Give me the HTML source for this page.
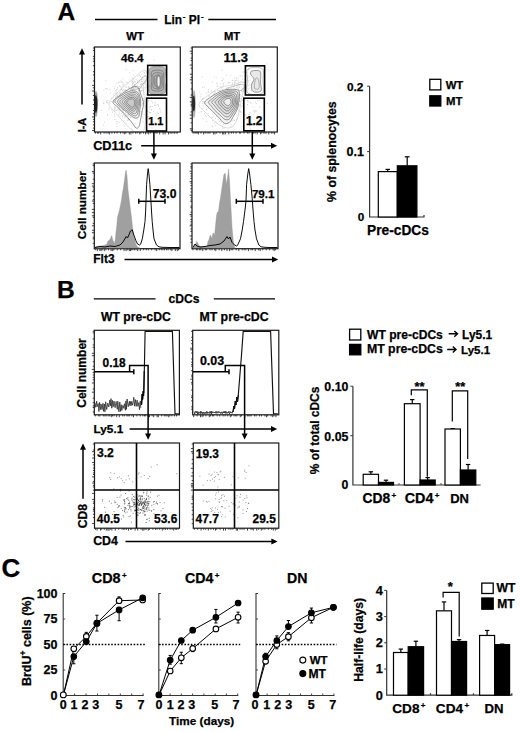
<!DOCTYPE html>
<html><head><meta charset="utf-8"><style>
html,body{margin:0;padding:0;background:#fff;width:520px;height:732px;overflow:hidden}
svg{display:block}
text{font-family:"Liberation Sans", sans-serif;font-weight:bold;fill:#000;stroke:#000;stroke-width:0.25px}
</style></head><body>
<svg width="520" height="732" viewBox="0 0 520 732">
<rect width="520" height="732" fill="#fff"/>
<text x="57.5" y="20.0" font-size="24.533" text-anchor="start">A</text>
<line x1="95" y1="19.5" x2="157.5" y2="19.5" stroke="#000" stroke-width="1.3"/>
<line x1="208.3" y1="19.5" x2="276" y2="19.5" stroke="#000" stroke-width="1.3"/>
<text x="164.16" y="24.03" font-size="11.952" text-anchor="start">Lin<tspan dx="0.8" dy="-5" font-size="8">-</tspan><tspan dy="5"> PI</tspan><tspan dx="0.8" dy="-5" font-size="8">-</tspan></text>
<text x="135.07" y="39.58" font-size="11.421" text-anchor="middle">WT</text>
<text x="232.07" y="39.58" font-size="11.226" text-anchor="middle">MT</text>
<path d="M142.5,117.9h0.8 M127.8,93.6h0.8 M113.9,102.3h0.8 M114.7,86.2h0.8 M129.4,103.5h0.8 M133.6,91.9h0.8 M127.1,101.3h0.8 M108.9,107.9h0.8 M130.8,128.3h0.8 M129.4,100.4h0.8 M141.8,104.2h0.8 M137.9,98.0h0.8 M129.6,113.3h0.8 M135.4,103.4h0.8 M114.0,106.9h0.8 M127.9,109.9h0.8 M129.6,114.0h0.8 M126.4,104.2h0.8 M135.0,90.0h0.8 M122.2,96.5h0.8 M150.8,101.0h0.8 M134.8,108.8h0.8 M123.6,84.9h0.8 M138.6,97.5h0.8 M135.6,87.6h0.8 M121.7,115.8h0.8 M144.2,87.7h0.8 M111.0,101.5h0.8 M135.7,103.8h0.8 M130.6,91.1h0.8 M134.0,114.3h0.8 M121.8,86.2h0.8 M117.9,110.4h0.8 M106.2,101.0h0.8 M115.1,100.6h0.8 M124.1,102.2h0.8 M145.0,106.6h0.8 M143.0,100.4h0.8 M121.2,106.2h0.8 M128.9,88.4h0.8 M132.6,95.8h0.8 M97.5,99.7h0.8 M115.3,96.3h0.8 M125.2,115.8h0.8 M128.2,101.7h0.8 M131.7,82.1h0.8 M141.9,90.2h0.8 M132.3,89.6h0.8 M115.3,97.6h0.8 M149.7,109.7h0.8 M119.7,98.9h0.8 M113.2,101.6h0.8 M120.1,109.9h0.8 M110.7,98.3h0.8 M116.9,94.1h0.8 M135.5,103.4h0.8 M134.0,115.1h0.8 M140.8,86.9h0.8 M133.4,82.6h0.8 M126.2,123.1h0.8 M124.7,97.9h0.8 M129.0,102.2h0.8 M127.3,93.7h0.8 M140.0,111.8h0.8 M124.5,105.5h0.8 M134.9,113.4h0.8 M131.7,109.6h0.8 M123.8,90.2h0.8 M121.1,113.2h0.8 M138.7,103.6h0.8 M120.2,105.4h0.8 M147.0,116.9h0.8 M118.8,101.5h0.8 M109.6,89.5h0.8 M129.3,102.3h0.8 M138.6,115.9h0.8 M137.0,116.5h0.8 M120.4,89.6h0.8 M133.0,131.5h0.8 M131.3,89.3h0.8 M129.9,117.7h0.8 M114.6,110.8h0.8 M119.7,116.0h0.8 M136.4,105.3h0.8 M151.0,97.5h0.8 M118.8,122.4h0.8 M116.5,126.2h0.8 M126.5,90.6h0.8 M127.0,103.4h0.8 M129.4,99.9h0.8 M140.0,76.5h0.8 M120.3,99.1h0.8 M148.8,80.1h0.8 M122.9,89.4h0.8 M119.0,109.0h0.8 M131.9,117.8h0.8 M119.8,105.0h0.8 M141.1,111.9h0.8 M123.0,114.4h0.8 M115.9,121.8h0.8 M128.9,100.8h0.8 M130.3,111.3h0.8 M147.9,100.4h0.8 M122.6,108.5h0.8 M116.5,83.3h0.8 M137.0,97.8h0.8 M140.5,90.7h0.8 M128.9,119.6h0.8 M133.3,105.4h0.8 M134.0,98.0h0.8 M127.9,87.1h0.8 M133.2,93.1h0.8 M121.7,109.7h0.8 M138.0,90.9h0.8 M151.0,95.5h0.8 M137.0,112.5h0.8 M129.7,103.9h0.8 M148.6,111.8h0.8 M132.3,81.9h0.8 M118.0,114.8h0.8 M129.3,91.5h0.8 M119.3,98.6h0.8 M135.2,106.3h0.8 M139.0,93.0h0.8 M138.8,96.5h0.8 M123.4,121.1h0.8 M127.9,100.5h0.8 M124.5,97.8h0.8 M145.7,117.1h0.8 M135.6,104.0h0.8 M139.5,101.1h0.8 M132.4,106.4h0.8 M128.1,120.1h0.8 M148.1,116.6h0.8 M104.0,122.2h0.8 M135.4,97.0h0.8 M126.7,114.5h0.8 M141.1,111.4h0.8 M128.7,102.4h0.8 M137.0,101.0h0.8 M116.2,95.1h0.8 M125.3,105.7h0.8 M154.2,86.9h0.8 M132.7,101.0h0.8 M130.6,116.9h0.8 M141.9,100.3h0.8 M120.3,87.0h0.8 M126.1,115.7h0.8 M123.8,109.7h0.8 M135.5,106.4h0.8 M140.0,100.7h0.8 M117.0,89.1h0.8 M138.1,98.0h0.8 M123.3,111.2h0.8 M117.5,121.5h0.8 M135.0,96.2h0.8 M119.4,113.9h0.8 M112.8,94.9h0.8 M127.1,104.2h0.8 M127.2,106.3h0.8 M122.6,100.7h0.8 M142.2,109.1h0.8 M121.6,120.9h0.8 M103.1,102.9h0.8 M135.0,112.7h0.8 M128.3,97.8h0.8 M134.0,99.9h0.8 M132.7,70.6h0.8 M131.6,93.3h0.8 M138.3,110.2h0.8 M135.7,97.6h0.8 M132.2,98.2h0.8 M129.6,100.5h0.8 M116.5,123.7h0.8 M135.7,79.4h0.8 M137.7,86.7h0.8 M124.2,95.6h0.8 M120.6,104.6h0.8 M123.1,86.1h0.8 M126.9,106.0h0.8 M148.2,97.4h0.8 M112.7,97.8h0.8 M134.8,92.3h0.8 M118.3,108.1h0.8 M126.9,104.4h0.8 M119.5,92.9h0.8 M123.1,100.3h0.8 M123.0,106.7h0.8 M133.6,108.0h0.8 M132.8,92.3h0.8 M113.6,110.8h0.8 M127.2,103.3h0.8 M113.1,99.7h0.8 M119.3,92.5h0.8 M119.4,85.6h0.8 M128.0,114.8h0.8 M118.5,103.0h0.8 M113.9,109.4h0.8 M149.4,88.4h0.8 M124.3,117.7h0.8 M131.4,103.3h0.8 M102.5,100.3h0.8 M138.0,117.8h0.8 M134.7,95.6h0.8 M118.8,82.0h0.8 M114.1,114.3h0.8 M125.6,87.3h0.8 M142.8,83.6h0.8 M142.1,98.4h0.8 M131.1,109.5h0.8 M130.1,116.0h0.8 M127.2,98.4h0.8 M119.1,86.1h0.8 M118.7,112.8h0.8 M136.9,117.3h0.8 M159.7,109.8h0.8 M133.0,87.5h0.8 M124.1,126.2h0.8 M133.4,100.5h0.8 M130.7,81.1h0.8 M117.0,87.6h0.8 M101.3,110.5h0.8 M138.6,100.1h0.8 M131.2,90.9h0.8 M132.4,110.4h0.8 M145.4,119.2h0.8 M132.9,100.6h0.8 M117.1,95.3h0.8 M134.4,108.2h0.8 M127.2,120.3h0.8 M134.8,102.2h0.8 M124.7,102.9h0.8 M115.6,91.2h0.8 M131.2,95.6h0.8 M123.7,115.4h0.8 M124.7,116.4h0.8 M126.9,118.7h0.8 M132.6,82.7h0.8 M141.9,99.7h0.8 M103.4,103.2h0.8 M128.9,87.8h0.8 M119.7,108.0h0.8 M143.9,114.5h0.8 M141.7,114.3h0.8 M97.2,94.0h0.8 M129.2,72.4h0.8 M136.2,111.8h0.8 M117.7,97.8h0.8 M115.7,101.8h0.8 M126.5,101.9h0.8 M114.7,106.3h0.8 M122.9,112.5h0.8 M130.8,85.7h0.8 M109.7,102.8h0.8 M121.2,107.2h0.8 M136.7,102.2h0.8 M106.8,88.9h0.8 M133.9,90.4h0.8 M140.3,101.0h0.8 M133.2,92.3h0.8 M125.8,69.4h0.8 M124.5,108.3h0.8 M116.2,92.7h0.8 M126.4,102.7h0.8 M117.3,109.4h0.8 M107.3,114.3h0.8 M110.2,92.9h0.8 M143.0,91.1h0.8 M107.2,102.8h0.8 M116.0,89.7h0.8 M118.6,93.8h0.8 M115.3,90.7h0.8 M146.3,94.6h0.8 M138.7,86.5h0.8 M133.5,88.2h0.8 M121.5,109.0h0.8 M120.6,80.4h0.8 M120.4,100.3h0.8 M133.9,91.0h0.8 M123.4,102.7h0.8 M107.2,100.8h0.8 M117.1,106.8h0.8 M125.7,100.2h0.8 M98.0,100.8h0.8 M122.6,91.6h0.8 M120.9,88.1h0.8 M129.1,109.3h0.8 M134.2,96.3h0.8 M147.2,111.4h0.8 M115.6,100.5h0.8 M107.4,100.7h0.8 M135.6,116.0h0.8 M122.0,82.3h0.8 M125.0,117.0h0.8 M128.7,116.0h0.8 M136.9,119.2h0.8 M134.2,94.7h0.8 M132.3,129.9h0.8 M120.8,81.6h0.8 M152.2,106.5h0.8 M119.5,95.3h0.8 M108.5,109.7h0.8 M128.7,95.0h0.8 M121.9,97.3h0.8 M139.8,100.0h0.8 M143.6,92.8h0.8 M119.7,96.7h0.8 M120.5,101.0h0.8 M139.3,115.3h0.8 M114.1,116.1h0.8 M128.1,119.5h0.8 M125.0,92.8h0.8 M136.5,108.9h0.8 M121.5,102.2h0.8 M128.6,105.4h0.8 M106.4,88.7h0.8 M127.7,104.9h0.8 M120.7,82.6h0.8 M143.1,98.6h0.8 M114.4,119.5h0.8 M140.6,113.4h0.8 M137.0,108.3h0.8 M115.3,102.3h0.8 M131.3,109.0h0.8 M132.7,90.9h0.8 M119.7,98.3h0.8 M124.7,92.4h0.8 M105.1,88.6h0.8 M130.7,101.9h0.8 M134.0,81.2h0.8 M122.0,111.8h0.8 M103.5,90.1h0.8 M107.0,115.3h0.8 M127.4,95.7h0.8 M128.8,101.0h0.8 M137.9,114.9h0.8 M138.0,105.8h0.8 M136.2,110.9h0.8 M141.0,81.8h0.8 M131.1,102.9h0.8 M128.9,99.3h0.8 M126.1,107.4h0.8 M129.4,103.4h0.8 M114.1,88.2h0.8 M118.0,82.4h0.8 M120.8,92.7h0.8 M105.4,80.7h0.8 M121.4,95.6h0.8 M153.1,111.5h0.8 M117.6,96.5h0.8 M114.9,93.3h0.8 M122.8,101.5h0.8 M119.5,111.0h0.8 M134.7,123.5h0.8 M111.3,109.4h0.8 M122.5,84.3h0.8 M123.4,83.9h0.8 M142.7,122.0h0.8 M141.3,85.0h0.8 M132.0,103.6h0.8 M132.2,90.6h0.8 M103.2,125.1h0.8 M141.3,105.4h0.8 M121.1,104.0h0.8 M112.1,112.6h0.8 M129.0,100.3h0.8 M121.8,101.3h0.8 M128.6,97.6h0.8 M138.5,104.3h0.8 M125.9,92.5h0.8 M141.6,116.3h0.8 M135.3,81.7h0.8 M122.8,112.9h0.8 M127.4,116.0h0.8 M121.7,110.8h0.8 M133.3,75.1h0.8 M122.1,99.4h0.8" fill="none" stroke="#c4c4c4" stroke-width="0.8"/>
<path d="M151.9,66.9h0.8 M141.3,83.7h0.8 M138.8,75.1h0.8 M132.4,86.4h0.8 M127.5,90.8h0.8 M133.4,88.7h0.8 M133.2,94.0h0.8 M122.7,78.8h0.8 M144.9,76.1h0.8 M133.8,92.3h0.8 M139.8,84.5h0.8 M132.7,92.8h0.8 M132.5,102.1h0.8 M128.4,94.4h0.8 M138.9,86.6h0.8 M138.0,89.5h0.8 M111.8,111.3h0.8 M134.0,86.1h0.8 M143.8,72.1h0.8 M128.7,80.0h0.8 M132.7,78.8h0.8 M134.1,106.0h0.8 M141.5,81.4h0.8 M132.6,80.2h0.8 M130.7,95.6h0.8 M122.7,102.8h0.8 M124.8,99.5h0.8 M135.1,100.8h0.8 M141.9,77.3h0.8 M120.4,97.5h0.8 M132.6,83.4h0.8 M142.2,87.9h0.8 M134.6,85.4h0.8 M141.1,79.7h0.8 M141.5,79.2h0.8 M147.0,73.7h0.8 M129.5,94.5h0.8 M128.7,87.8h0.8 M138.5,90.1h0.8 M121.2,102.1h0.8 M135.0,87.1h0.8 M137.6,76.0h0.8 M140.5,80.8h0.8 M136.7,84.9h0.8 M132.5,87.0h0.8 M147.3,90.9h0.8 M147.4,81.8h0.8 M139.0,80.7h0.8 M148.7,89.3h0.8 M130.9,98.7h0.8 M145.2,80.0h0.8 M147.6,85.5h0.8 M157.5,74.8h0.8 M150.0,75.4h0.8 M143.7,80.9h0.8 M137.6,82.5h0.8 M147.4,86.4h0.8 M137.1,88.3h0.8 M141.9,81.8h0.8 M145.0,80.3h0.8 M125.5,91.1h0.8 M144.9,83.1h0.8 M146.2,79.0h0.8 M133.3,79.1h0.8 M144.1,72.8h0.8 M140.8,74.6h0.8 M133.5,91.5h0.8 M132.1,86.8h0.8 M146.4,82.0h0.8 M139.2,82.1h0.8 M130.2,90.4h0.8 M133.9,89.8h0.8 M142.5,79.9h0.8 M130.0,89.6h0.8 M147.4,77.4h0.8 M140.5,85.4h0.8 M142.5,82.3h0.8 M149.0,80.4h0.8 M117.5,106.0h0.8 M153.9,60.3h0.8 M142.7,88.9h0.8 M142.8,90.7h0.8 M124.6,90.8h0.8 M134.0,84.8h0.8 M132.5,95.7h0.8 M139.9,84.1h0.8 M136.1,89.8h0.8 M134.5,84.3h0.8 M142.9,83.6h0.8 M141.1,87.8h0.8 M129.8,93.4h0.8 M139.1,94.4h0.8 M149.1,89.7h0.8 M147.6,73.4h0.8 M132.1,95.5h0.8 M135.5,87.5h0.8 M132.8,95.7h0.8 M140.7,86.1h0.8 M136.9,80.6h0.8 M121.4,101.1h0.8 M131.7,88.7h0.8 M144.3,78.8h0.8 M149.2,75.8h0.8 M144.6,82.8h0.8 M139.1,75.8h0.8 M146.0,78.6h0.8 M133.4,95.1h0.8 M145.0,88.0h0.8 M144.4,82.0h0.8 M132.6,103.6h0.8 M151.1,78.0h0.8 M145.6,86.9h0.8 M134.5,94.7h0.8 M134.6,82.3h0.8 M141.8,84.6h0.8 M153.3,77.1h0.8 M119.8,90.7h0.8 M136.7,85.8h0.8 M126.2,87.6h0.8 M132.5,83.4h0.8 M136.3,94.0h0.8 M137.0,81.7h0.8 M129.5,93.4h0.8 M148.3,71.8h0.8 M147.2,70.8h0.8 M139.0,89.9h0.8 M132.8,91.7h0.8 M130.9,98.0h0.8 M143.7,75.4h0.8 M137.8,83.2h0.8 M132.8,111.0h0.8 M145.3,84.4h0.8 M141.3,83.8h0.8 M148.0,62.6h0.8 M134.3,86.8h0.8 M139.0,89.9h0.8 M128.2,86.6h0.8 M131.8,95.7h0.8 M147.5,82.0h0.8 M147.3,72.7h0.8 M147.4,81.3h0.8 M134.1,84.6h0.8 M141.7,77.3h0.8 M132.5,84.7h0.8 M150.0,73.3h0.8 M133.6,88.7h0.8 M136.7,87.9h0.8 M121.9,94.2h0.8 M145.4,86.1h0.8 M131.3,93.7h0.8 M125.8,82.2h0.8 M131.9,84.5h0.8 M143.3,79.0h0.8 M132.5,81.2h0.8 M132.0,78.2h0.8 M144.5,89.2h0.8 M132.6,97.7h0.8 M147.1,75.2h0.8 M146.1,78.3h0.8 M127.3,82.5h0.8" fill="none" stroke="#c8c8c8" stroke-width="0.8"/>
<path d="M128.6,110.5h0.8 M122.4,109.0h0.8 M126.4,101.4h0.8 M139.4,103.9h0.8 M127.7,107.4h0.8 M134.8,102.8h0.8 M131.5,97.2h0.8 M125.8,100.4h0.8 M120.0,93.9h0.8 M118.2,101.6h0.8 M127.0,101.1h0.8 M128.4,95.0h0.8 M127.5,104.4h0.8 M132.5,97.9h0.8 M125.6,90.9h0.8 M125.0,89.8h0.8 M119.5,109.6h0.8 M114.8,107.8h0.8 M130.0,101.1h0.8 M130.8,106.2h0.8 M134.3,101.6h0.8 M124.4,99.4h0.8 M122.1,102.7h0.8 M123.3,109.4h0.8 M116.8,96.4h0.8 M122.3,90.4h0.8 M139.4,88.5h0.8 M126.3,99.8h0.8 M137.9,91.1h0.8 M134.4,98.6h0.8 M127.1,99.0h0.8 M131.8,96.2h0.8 M127.5,105.1h0.8 M139.0,88.6h0.8 M137.2,108.7h0.8 M125.1,104.8h0.8 M125.2,112.9h0.8 M129.3,101.7h0.8 M126.6,101.8h0.8 M126.9,97.7h0.8 M140.4,91.5h0.8 M106.4,102.3h0.8 M127.1,105.2h0.8 M126.8,102.1h0.8 M130.0,108.8h0.8 M125.3,100.8h0.8 M139.6,106.2h0.8 M122.1,116.9h0.8 M132.7,99.5h0.8 M121.0,104.8h0.8 M123.0,96.7h0.8 M120.2,100.0h0.8 M134.6,100.4h0.8 M119.3,107.0h0.8 M128.4,108.1h0.8 M135.2,102.0h0.8 M127.1,102.7h0.8 M121.2,107.0h0.8 M136.2,104.0h0.8 M126.6,101.4h0.8 M123.3,98.2h0.8 M125.6,97.9h0.8 M125.4,93.5h0.8 M130.1,103.3h0.8 M121.1,89.2h0.8 M128.0,109.6h0.8 M123.6,100.1h0.8 M124.6,106.9h0.8 M122.5,108.9h0.8 M126.2,108.5h0.8 M128.2,101.6h0.8 M119.1,98.9h0.8 M126.4,107.0h0.8 M129.5,98.8h0.8 M130.5,108.9h0.8 M127.1,100.4h0.8 M125.6,107.9h0.8 M131.2,97.4h0.8 M130.2,100.1h0.8 M123.5,110.4h0.8 M132.9,98.7h0.8 M128.5,106.0h0.8 M124.2,102.3h0.8 M132.0,92.3h0.8 M130.0,107.4h0.8 M131.0,95.0h0.8 M129.9,97.8h0.8 M131.4,106.6h0.8 M129.3,98.4h0.8 M124.5,108.1h0.8 M122.6,106.0h0.8 M131.1,101.3h0.8 M142.4,103.4h0.8 M140.9,90.9h0.8 M114.5,108.9h0.8 M131.8,101.1h0.8 M127.7,91.6h0.8 M124.2,96.8h0.8 M126.7,108.3h0.8 M128.3,105.2h0.8 M123.8,100.4h0.8 M128.7,101.3h0.8 M135.6,97.7h0.8 M139.3,97.1h0.8 M134.4,98.4h0.8 M137.9,103.8h0.8 M130.4,107.5h0.8 M124.2,96.7h0.8 M115.8,110.3h0.8 M123.8,99.4h0.8 M127.8,114.9h0.8 M117.6,104.5h0.8 M125.6,106.2h0.8 M117.2,100.6h0.8 M133.0,112.4h0.8 M137.6,97.9h0.8 M128.3,102.3h0.8 M119.7,94.4h0.8 M132.5,104.5h0.8 M127.1,110.3h0.8" fill="none" stroke="#b0b0b0" stroke-width="0.8"/>
<ellipse cx="96" cy="104" rx="1.9" ry="13" fill="#666" opacity="0.6"/>
<ellipse cx="95.9" cy="104" rx="1.5" ry="9" fill="#111" opacity="0.9"/>
<path d="M109.00,103.00 C109.67,100.17 114.00,96.17 117.00,93.00 C120.00,89.83 124.00,86.67 127.00,84.00 C130.00,81.33 132.67,79.00 135.00,77.00 C137.33,75.00 139.17,73.08 141.00,72.00 C142.83,70.92 145.00,69.50 146.00,70.50 C147.00,71.50 147.42,75.42 147.00,78.00 C146.58,80.58 143.92,82.33 143.50,86.00 C143.08,89.67 144.17,94.67 144.50,100.00 C144.83,105.33 145.75,112.83 145.50,118.00 C145.25,123.17 145.08,128.83 143.00,131.00 C140.92,133.17 136.17,132.50 133.00,131.00 C129.83,129.50 127.33,125.50 124.00,122.00 C120.67,118.50 115.50,113.17 113.00,110.00 C110.50,106.83 108.33,105.83 109.00,103.00Z" fill="none" stroke="#bbb" stroke-width="0.5"/>
<path d="M131.00,89.00 C130.50,88.25 134.33,85.67 136.00,84.00 C137.67,82.33 139.42,80.33 141.00,79.00 C142.58,77.67 144.50,76.00 145.50,76.00 C146.50,76.00 147.42,77.67 147.00,79.00 C146.58,80.33 144.33,82.42 143.00,84.00 C141.67,85.58 141.00,87.67 139.00,88.50 C137.00,89.33 131.50,89.75 131.00,89.00Z" fill="none" stroke="#999" stroke-width="0.6"/>
<path d="M113.00,101.60 C113.58,99.52 118.33,96.60 121.00,94.50 C123.67,92.40 126.67,90.33 129.00,89.00 C131.33,87.67 133.42,86.67 135.00,86.50 C136.58,86.33 137.50,86.58 138.50,88.00 C139.50,89.42 140.17,92.50 141.00,95.00 C141.83,97.50 143.33,100.17 143.50,103.00 C143.67,105.83 142.50,109.17 142.00,112.00 C141.50,114.83 141.00,117.58 140.50,120.00 C140.00,122.42 139.75,125.17 139.00,126.50 C138.25,127.83 137.25,128.75 136.00,128.00 C134.75,127.25 133.50,124.42 131.50,122.00 C129.50,119.58 126.33,116.00 124.00,113.50 C121.67,111.00 119.33,108.98 117.50,107.00 C115.67,105.02 112.42,103.68 113.00,101.60Z" fill="none" stroke="#707070" stroke-width="0.75"/>
<path d="M114.93,101.02 C115.10,98.96 119.59,96.76 122.11,95.10 C124.62,93.44 127.78,91.67 130.00,91.04 C132.23,90.41 134.05,90.98 135.45,91.33 C136.85,91.68 137.60,92.02 138.40,93.14 C139.21,94.25 139.90,96.20 140.27,98.02 C140.64,99.83 140.74,101.83 140.62,104.01 C140.50,106.18 139.92,108.97 139.58,111.07 C139.23,113.17 139.33,115.44 138.56,116.60 C137.79,117.77 136.56,118.51 134.97,118.08 C133.37,117.65 131.31,115.78 129.00,114.01 C126.68,112.24 123.41,109.64 121.07,107.47 C118.72,105.31 114.75,103.08 114.93,101.02Z" fill="#f4f4f4" stroke="#707070" stroke-width="0.75"/>
<path d="M117.55,101.27 C117.74,99.48 121.30,97.56 123.41,96.13 C125.52,94.70 128.29,93.28 130.22,92.70 C132.14,92.13 133.75,92.42 134.98,92.68 C136.20,92.94 136.86,93.29 137.57,94.26 C138.28,95.23 138.92,96.93 139.25,98.52 C139.58,100.11 139.68,101.92 139.54,103.81 C139.39,105.69 138.73,108.06 138.38,109.81 C138.02,111.56 138.05,113.31 137.40,114.32 C136.74,115.33 135.82,116.15 134.47,115.86 C133.13,115.57 131.35,114.08 129.31,112.59 C127.28,111.09 124.22,108.77 122.26,106.89 C120.30,105.00 117.35,103.07 117.55,101.27Z" fill="#eeeeee" stroke="#707070" stroke-width="0.75"/>
<path d="M119.81,101.47 C119.96,99.97 122.96,98.38 124.73,97.16 C126.49,95.95 128.81,94.65 130.42,94.19 C132.03,93.73 133.36,94.13 134.37,94.38 C135.39,94.63 135.92,94.89 136.52,95.69 C137.11,96.49 137.65,97.87 137.95,99.19 C138.26,100.51 138.45,102.02 138.34,103.60 C138.23,105.18 137.61,107.18 137.29,108.65 C136.98,110.12 137.01,111.62 136.46,112.44 C135.91,113.27 135.10,113.84 133.97,113.60 C132.83,113.37 131.35,112.25 129.66,111.01 C127.96,109.77 125.43,107.75 123.78,106.16 C122.14,104.57 119.65,102.97 119.81,101.47Z" fill="#e6e6e6" stroke="#707070" stroke-width="0.75"/>
<path d="M122.26,101.70 C122.38,100.48 124.57,99.11 125.96,98.12 C127.35,97.13 129.31,96.11 130.62,95.74 C131.93,95.38 133.00,95.73 133.82,95.95 C134.64,96.16 135.03,96.39 135.53,97.03 C136.03,97.67 136.53,98.71 136.81,99.77 C137.08,100.83 137.27,102.10 137.18,103.39 C137.09,104.69 136.57,106.40 136.26,107.54 C135.96,108.68 135.81,109.63 135.34,110.24 C134.86,110.84 134.31,111.30 133.41,111.18 C132.52,111.06 131.35,110.45 129.99,109.50 C128.63,108.54 126.54,106.76 125.25,105.46 C123.96,104.16 122.14,102.92 122.26,101.70Z" fill="#dcdcdc" stroke="#707070" stroke-width="0.75"/>
<path d="M124.64,101.93 C124.74,100.97 126.16,99.85 127.19,99.09 C128.22,98.33 129.81,97.63 130.83,97.36 C131.84,97.09 132.64,97.33 133.27,97.48 C133.91,97.64 134.22,97.79 134.62,98.27 C135.02,98.75 135.42,99.53 135.66,100.35 C135.91,101.18 136.15,102.19 136.07,103.20 C135.99,104.21 135.47,105.54 135.20,106.41 C134.93,107.29 134.83,108.02 134.46,108.47 C134.09,108.92 133.65,109.21 132.96,109.13 C132.27,109.04 131.39,108.68 130.32,107.97 C129.25,107.25 127.51,105.84 126.56,104.84 C125.61,103.83 124.53,102.88 124.64,101.93Z" fill="#d2d2d2" stroke="#707070" stroke-width="0.75"/>
<path d="M126.67,102.10 C126.75,101.41 127.70,100.61 128.42,100.06 C129.15,99.52 130.30,99.03 131.02,98.84 C131.74,98.65 132.30,98.84 132.76,98.94 C133.21,99.05 133.46,99.12 133.74,99.46 C134.03,99.79 134.31,100.38 134.47,100.97 C134.64,101.56 134.78,102.28 134.73,103.00 C134.68,103.72 134.35,104.68 134.16,105.30 C133.97,105.93 133.87,106.42 133.60,106.73 C133.33,107.05 133.02,107.26 132.53,107.20 C132.04,107.14 131.43,106.89 130.66,106.39 C129.89,105.89 128.61,104.89 127.94,104.18 C127.28,103.46 126.59,102.79 126.67,102.10Z" fill="#cacaca" stroke="#707070" stroke-width="0.75"/>
<path d="M150.00,68.00 C152.48,65.97 162.00,65.80 164.50,67.80 C167.00,69.80 164.97,75.80 165.00,80.00 C165.03,84.20 167.20,90.80 164.70,93.00 C162.20,95.20 152.52,95.37 150.00,93.20 C147.48,91.03 149.60,84.20 149.60,80.00 C149.60,75.80 147.52,70.03 150.00,68.00Z" fill="#b4b4b4" stroke="#888" stroke-width="0.6"/>
<path d="M152.05,71.22 C153.85,69.74 160.83,69.74 162.68,71.22 C164.52,72.71 163.10,77.03 163.10,80.15 C163.10,83.27 164.52,88.30 162.68,89.92 C160.83,91.55 153.85,91.55 152.05,89.92 C150.25,88.30 151.88,83.27 151.88,80.15 C151.88,77.03 150.25,72.71 152.05,71.22Z" fill="none" stroke="#6e6e6e" stroke-width="0.7"/>
<path d="M153.45,73.53 C154.83,72.39 160.17,72.39 161.57,73.53 C162.98,74.66 161.90,77.97 161.90,80.35 C161.90,82.73 162.98,86.58 161.57,87.83 C160.17,89.07 154.83,89.07 153.45,87.83 C152.07,86.58 153.32,82.73 153.32,80.35 C153.32,77.97 152.07,74.66 153.45,73.53Z" fill="none" stroke="#6e6e6e" stroke-width="0.7"/>
<path d="M154.85,75.83 C155.80,75.04 159.50,75.04 160.47,75.83 C161.45,76.61 160.70,78.90 160.70,80.55 C160.70,82.20 161.45,84.86 160.47,85.72 C159.50,86.59 155.80,86.59 154.85,85.72 C153.90,84.86 154.76,82.20 154.76,80.55 C154.76,78.90 153.90,76.61 154.85,75.83Z" fill="none" stroke="#6e6e6e" stroke-width="0.7"/>
<ellipse cx="158.3" cy="82" rx="2.8" ry="8" fill="#8a8a8a"/>
<ellipse cx="158.6" cy="81.5" rx="1.1" ry="5" fill="#f4f4f4"/>
<path d="M149.1,112.7h0.8 M160.4,112.0h0.8 M151.7,128.0h0.8 M152.3,102.8h0.8 M155.2,122.7h0.8 M154.3,105.3h0.8 M155.5,105.2h0.8 M160.5,120.9h0.8 M154.8,102.8h0.8 M155.8,115.3h0.8 M150.3,106.4h0.8 M159.4,108.4h0.8 M155.2,124.5h0.8 M158.1,106.2h0.8 M148.2,101.0h0.8 M157.7,113.5h0.8 M149.6,107.4h0.8 M151.2,109.9h0.8 M157.5,104.5h0.8 M158.5,120.9h0.8 M151.7,117.5h0.8 M150.3,112.5h0.8 M155.5,129.5h0.8" fill="none" stroke="#aaa" stroke-width="0.8"/>
<path d="M208.1,108.2h0.8 M236.9,98.4h0.8 M206.7,103.3h0.8 M230.2,116.1h0.8 M208.2,89.8h0.8 M233.2,109.2h0.8 M243.9,114.8h0.8 M222.7,101.0h0.8 M257.4,100.8h0.8 M213.8,91.5h0.8 M225.2,105.6h0.8 M219.5,103.3h0.8 M227.6,111.6h0.8 M238.3,106.3h0.8 M200.7,111.7h0.8 M205.5,102.1h0.8 M204.8,104.0h0.8 M213.9,106.4h0.8 M266.9,103.5h0.8 M235.0,89.4h0.8 M220.3,111.3h0.8 M222.8,108.1h0.8 M225.3,92.9h0.8 M231.3,95.1h0.8 M248.3,98.4h0.8 M232.9,104.0h0.8 M236.4,97.4h0.8 M237.0,102.6h0.8 M240.4,110.9h0.8 M225.8,95.4h0.8 M234.0,109.1h0.8 M245.3,99.9h0.8 M231.2,109.6h0.8 M227.7,106.3h0.8 M226.4,97.4h0.8 M210.8,99.6h0.8 M231.7,120.6h0.8 M236.7,115.6h0.8 M234.1,111.7h0.8 M226.4,112.5h0.8 M247.1,100.4h0.8 M215.0,125.6h0.8 M227.2,114.7h0.8 M235.4,91.5h0.8 M255.6,123.5h0.8 M226.3,112.3h0.8 M225.6,94.3h0.8 M222.5,108.1h0.8 M238.5,111.8h0.8 M224.8,118.9h0.8 M214.1,112.7h0.8 M238.5,100.8h0.8 M200.7,94.0h0.8 M227.1,109.8h0.8 M244.1,93.0h0.8 M224.0,111.1h0.8 M221.9,77.9h0.8 M234.5,129.4h0.8 M237.1,93.9h0.8 M218.6,106.4h0.8 M256.4,110.8h0.8 M225.5,121.1h0.8 M222.9,124.5h0.8 M215.1,98.8h0.8 M233.4,119.7h0.8 M232.5,107.3h0.8 M200.3,96.2h0.8 M216.1,98.1h0.8 M231.6,100.3h0.8 M234.2,104.9h0.8 M219.7,105.3h0.8 M229.6,113.4h0.8 M217.8,101.4h0.8 M206.3,121.6h0.8 M242.9,102.0h0.8 M217.8,90.4h0.8 M226.2,106.3h0.8 M252.4,106.7h0.8 M213.9,77.1h0.8 M242.3,106.1h0.8 M203.1,106.0h0.8 M238.5,110.3h0.8 M221.7,80.5h0.8 M222.4,86.9h0.8 M231.8,80.5h0.8 M212.2,117.4h0.8 M245.4,91.0h0.8 M204.1,113.7h0.8 M235.1,93.1h0.8 M215.0,96.4h0.8 M208.5,96.5h0.8 M240.3,111.6h0.8 M250.7,103.1h0.8 M222.2,93.2h0.8 M222.4,89.6h0.8 M200.9,111.7h0.8 M242.7,113.2h0.8 M241.3,106.8h0.8 M214.7,104.9h0.8 M219.1,91.8h0.8 M202.0,87.7h0.8 M223.9,105.7h0.8 M217.8,119.7h0.8 M226.3,110.4h0.8 M239.8,95.0h0.8 M198.4,112.3h0.8 M215.1,118.4h0.8 M228.4,115.1h0.8 M233.9,81.1h0.8 M233.3,96.6h0.8 M214.2,99.2h0.8 M234.0,113.7h0.8 M237.1,85.7h0.8 M216.3,77.9h0.8 M222.7,110.6h0.8 M214.1,106.7h0.8 M227.0,115.1h0.8 M213.3,94.9h0.8 M214.1,123.3h0.8 M238.2,102.6h0.8 M226.9,105.3h0.8 M226.6,101.7h0.8 M219.7,90.2h0.8 M215.7,122.2h0.8 M231.0,104.7h0.8 M221.2,104.7h0.8 M228.6,96.9h0.8 M226.6,106.6h0.8 M214.3,95.3h0.8 M211.0,92.3h0.8 M235.6,78.0h0.8 M220.5,97.3h0.8 M215.9,105.1h0.8 M238.7,104.8h0.8 M222.2,97.3h0.8 M222.3,114.0h0.8 M218.9,91.4h0.8 M207.6,91.8h0.8 M205.9,116.1h0.8 M228.6,101.4h0.8 M243.0,96.8h0.8 M233.8,112.8h0.8 M203.9,86.9h0.8 M211.9,114.0h0.8 M240.8,90.5h0.8 M237.6,99.8h0.8 M218.9,97.9h0.8 M219.8,84.0h0.8 M211.0,90.4h0.8 M230.4,127.0h0.8 M259.5,100.3h0.8 M201.6,99.5h0.8 M211.8,125.8h0.8 M231.4,96.0h0.8 M236.2,109.9h0.8 M202.9,98.2h0.8 M220.9,104.2h0.8 M225.7,100.3h0.8 M226.5,97.6h0.8 M212.3,120.7h0.8 M228.7,108.8h0.8 M203.3,102.2h0.8 M234.6,89.8h0.8 M238.3,99.7h0.8 M229.2,102.5h0.8 M226.8,117.2h0.8 M218.8,121.2h0.8 M213.8,93.8h0.8 M233.2,92.3h0.8 M219.2,114.0h0.8 M239.7,84.5h0.8 M230.6,124.7h0.8 M239.5,101.4h0.8 M216.2,100.7h0.8 M209.0,101.1h0.8 M221.6,102.4h0.8 M239.4,101.5h0.8 M205.0,115.6h0.8 M210.1,99.1h0.8 M222.3,100.2h0.8 M211.0,101.3h0.8 M252.4,97.3h0.8 M222.2,116.4h0.8 M233.7,112.4h0.8 M235.2,82.4h0.8 M212.8,105.4h0.8 M230.5,118.2h0.8 M230.1,101.4h0.8 M224.5,101.7h0.8 M227.2,111.4h0.8 M219.6,95.1h0.8 M212.9,116.1h0.8 M240.7,114.9h0.8 M235.1,113.2h0.8 M224.0,111.3h0.8 M210.3,101.8h0.8 M214.5,112.0h0.8 M216.5,102.8h0.8 M229.2,118.9h0.8 M213.7,93.7h0.8 M234.6,91.8h0.8 M229.9,97.7h0.8 M222.6,84.0h0.8 M233.3,98.5h0.8 M212.3,126.8h0.8 M229.3,100.2h0.8 M225.4,121.7h0.8 M223.6,109.0h0.8 M230.7,94.0h0.8 M225.7,98.5h0.8 M207.8,113.6h0.8 M232.7,104.8h0.8 M212.2,81.9h0.8 M230.3,102.9h0.8 M202.1,103.3h0.8 M204.2,103.7h0.8 M225.9,107.9h0.8 M226.8,105.9h0.8 M209.2,99.8h0.8 M217.4,101.4h0.8 M227.5,110.8h0.8 M245.3,75.7h0.8 M229.2,101.8h0.8 M253.6,114.3h0.8 M202.5,108.4h0.8 M217.2,114.9h0.8 M210.3,102.9h0.8 M222.3,102.9h0.8 M216.4,83.8h0.8 M230.0,115.0h0.8 M223.1,92.8h0.8 M226.6,110.2h0.8 M221.7,103.8h0.8 M242.3,91.7h0.8 M216.7,83.0h0.8 M214.9,95.9h0.8 M211.5,96.4h0.8 M247.4,101.8h0.8 M222.5,128.2h0.8 M223.2,84.9h0.8 M229.2,93.7h0.8 M245.3,90.3h0.8 M216.5,86.3h0.8 M225.3,92.8h0.8 M223.1,99.9h0.8 M216.0,114.4h0.8 M236.2,104.7h0.8 M212.3,92.2h0.8 M227.5,130.3h0.8 M218.1,95.4h0.8 M214.9,92.0h0.8 M211.4,101.7h0.8 M242.6,104.0h0.8 M217.4,86.2h0.8 M226.8,103.7h0.8 M208.1,92.0h0.8 M223.5,115.1h0.8 M232.1,106.3h0.8 M219.8,107.5h0.8 M223.8,127.9h0.8 M209.3,99.9h0.8 M240.5,101.1h0.8 M242.5,103.5h0.8 M225.9,99.9h0.8 M206.1,93.3h0.8 M252.8,111.1h0.8 M231.9,114.5h0.8 M231.4,115.2h0.8 M220.5,101.5h0.8 M236.8,100.1h0.8 M206.7,101.5h0.8 M216.9,110.7h0.8 M214.6,92.3h0.8 M219.7,121.1h0.8 M223.4,105.8h0.8 M224.1,107.3h0.8 M236.1,119.4h0.8 M202.6,119.0h0.8 M224.0,100.5h0.8 M255.2,102.1h0.8 M249.3,114.6h0.8 M210.6,109.4h0.8 M233.6,102.6h0.8 M221.5,91.8h0.8 M247.7,101.3h0.8 M218.9,100.7h0.8 M213.8,95.5h0.8 M225.2,107.4h0.8 M217.4,103.0h0.8 M205.9,109.7h0.8 M214.3,106.4h0.8 M212.2,98.3h0.8 M226.8,90.7h0.8 M256.1,103.6h0.8 M223.1,95.9h0.8 M244.7,119.2h0.8 M227.9,89.0h0.8 M217.4,110.8h0.8 M217.3,91.0h0.8 M208.6,95.5h0.8 M224.2,96.9h0.8 M247.0,92.6h0.8 M228.5,105.0h0.8 M222.2,115.5h0.8 M219.7,100.4h0.8 M219.1,102.9h0.8 M240.7,112.5h0.8 M206.6,99.1h0.8 M213.6,113.0h0.8 M226.9,113.8h0.8 M223.2,83.0h0.8 M229.9,106.5h0.8 M230.6,89.7h0.8 M225.1,96.4h0.8 M215.1,107.9h0.8 M228.6,94.2h0.8 M201.7,76.8h0.8 M216.5,116.3h0.8 M223.3,79.2h0.8 M212.8,108.6h0.8 M245.7,116.8h0.8 M228.8,106.2h0.8 M210.2,99.0h0.8 M219.7,95.5h0.8 M224.8,99.7h0.8 M228.4,119.8h0.8 M233.6,108.6h0.8 M220.9,87.3h0.8 M222.5,110.0h0.8 M210.9,117.8h0.8 M219.7,108.1h0.8 M219.7,90.2h0.8 M250.9,91.2h0.8 M235.9,97.9h0.8 M227.6,95.1h0.8 M218.6,114.1h0.8 M249.3,94.7h0.8 M224.1,114.4h0.8 M215.8,111.8h0.8 M213.8,110.6h0.8 M229.7,117.3h0.8 M228.7,90.9h0.8 M232.6,91.9h0.8 M233.8,120.6h0.8 M231.7,97.9h0.8 M239.5,105.8h0.8 M207.8,100.1h0.8 M242.4,100.7h0.8 M225.6,100.2h0.8 M202.1,98.4h0.8 M228.6,106.3h0.8 M221.7,80.5h0.8 M239.9,111.9h0.8 M237.3,118.3h0.8 M218.2,97.4h0.8 M228.1,122.4h0.8 M202.1,101.5h0.8 M214.7,110.2h0.8 M243.0,100.7h0.8 M207.9,104.5h0.8 M220.3,87.0h0.8 M235.5,98.2h0.8 M232.9,89.5h0.8 M238.3,88.1h0.8 M237.7,84.1h0.8 M241.9,99.9h0.8 M203.8,101.4h0.8 M228.4,93.1h0.8 M217.6,107.0h0.8 M221.8,70.3h0.8 M218.4,108.7h0.8 M227.9,115.1h0.8 M234.4,107.4h0.8 M238.1,114.5h0.8 M225.3,97.2h0.8 M237.3,108.7h0.8 M199.4,91.9h0.8 M230.1,105.2h0.8 M227.6,111.1h0.8 M225.9,121.4h0.8 M216.3,99.6h0.8 M228.2,112.2h0.8 M234.2,120.4h0.8 M217.8,116.8h0.8 M230.1,92.5h0.8 M222.2,126.9h0.8 M234.2,98.8h0.8 M214.9,104.8h0.8 M254.0,112.2h0.8 M228.1,93.7h0.8 M208.6,101.7h0.8 M218.7,97.2h0.8 M238.7,104.8h0.8" fill="none" stroke="#c4c4c4" stroke-width="0.8"/>
<path d="M226.9,95.3h0.8 M234.1,85.2h0.8 M246.2,80.9h0.8 M241.8,96.5h0.8 M229.6,82.5h0.8 M224.9,91.2h0.8 M246.3,86.5h0.8 M253.7,88.7h0.8 M254.5,79.6h0.8 M251.6,81.7h0.8 M236.6,93.3h0.8 M238.3,84.6h0.8 M257.8,78.5h0.8 M234.3,88.3h0.8 M257.3,71.4h0.8 M246.9,84.9h0.8 M244.9,86.0h0.8 M233.0,86.4h0.8 M236.1,85.1h0.8 M250.7,89.1h0.8 M233.1,93.8h0.8 M228.1,88.1h0.8 M237.0,87.9h0.8 M226.0,75.4h0.8 M249.3,76.7h0.8 M235.7,93.0h0.8 M228.7,82.2h0.8 M244.2,85.3h0.8 M234.6,94.9h0.8 M237.9,78.1h0.8 M254.2,77.3h0.8 M230.7,94.7h0.8 M243.0,90.1h0.8 M230.9,98.9h0.8 M248.9,84.1h0.8 M248.3,89.1h0.8 M245.1,82.5h0.8 M235.4,96.3h0.8 M247.9,81.8h0.8 M242.4,88.7h0.8 M218.7,102.0h0.8 M218.5,101.5h0.8 M254.0,89.4h0.8 M236.1,90.8h0.8 M230.4,75.2h0.8 M244.6,81.7h0.8 M235.9,80.8h0.8 M238.5,86.6h0.8 M250.3,80.1h0.8 M266.4,63.9h0.8 M236.2,87.2h0.8 M237.0,98.2h0.8 M239.6,75.9h0.8 M243.4,91.1h0.8 M227.2,94.8h0.8 M244.6,99.0h0.8 M240.6,81.5h0.8 M240.3,98.7h0.8 M242.5,100.1h0.8 M224.8,93.9h0.8 M234.1,83.8h0.8 M239.2,90.7h0.8 M228.1,82.6h0.8 M254.9,85.6h0.8 M233.8,91.4h0.8 M220.6,105.9h0.8 M225.5,90.8h0.8 M252.3,67.2h0.8 M235.0,80.5h0.8 M219.1,90.7h0.8 M236.3,77.9h0.8 M236.1,93.0h0.8 M232.7,80.3h0.8 M251.5,78.0h0.8 M246.7,72.7h0.8 M248.0,69.5h0.8 M222.5,93.8h0.8 M236.3,89.4h0.8 M236.0,92.4h0.8 M247.5,75.1h0.8 M225.7,91.8h0.8 M248.2,85.4h0.8 M232.2,83.0h0.8 M241.7,90.9h0.8 M237.0,96.6h0.8 M241.4,86.1h0.8 M238.0,96.4h0.8 M233.8,78.2h0.8 M243.9,79.2h0.8 M248.1,80.6h0.8 M233.9,90.4h0.8 M231.6,84.6h0.8 M241.5,90.0h0.8 M238.8,85.1h0.8 M235.8,92.0h0.8 M244.1,89.2h0.8 M248.9,94.6h0.8 M225.2,94.7h0.8 M246.1,87.4h0.8 M221.5,88.6h0.8 M241.8,91.5h0.8 M242.5,72.1h0.8 M243.6,91.1h0.8 M235.2,80.6h0.8 M227.9,83.4h0.8 M247.6,77.8h0.8 M231.9,84.0h0.8 M234.2,82.2h0.8 M230.2,91.3h0.8 M238.1,89.6h0.8 M243.8,91.1h0.8 M239.0,87.5h0.8 M237.6,80.6h0.8 M246.5,76.4h0.8 M229.6,101.3h0.8 M242.0,79.4h0.8 M249.8,85.4h0.8 M240.3,76.1h0.8 M236.4,79.8h0.8 M231.5,86.6h0.8 M233.1,93.3h0.8 M234.0,93.6h0.8 M237.8,82.0h0.8 M242.3,88.4h0.8 M247.1,78.2h0.8 M254.9,78.9h0.8 M244.2,72.1h0.8 M233.8,98.1h0.8 M238.2,89.6h0.8 M243.5,71.9h0.8 M248.9,93.1h0.8 M245.5,81.9h0.8 M243.2,82.8h0.8 M249.4,88.1h0.8 M238.6,90.1h0.8 M243.6,88.0h0.8 M241.8,75.8h0.8 M251.1,83.6h0.8 M228.4,90.8h0.8 M225.3,92.8h0.8" fill="none" stroke="#c8c8c8" stroke-width="0.8"/>
<ellipse cx="194" cy="104" rx="1.7" ry="14" fill="#777" opacity="0.55"/>
<ellipse cx="193.8" cy="103.5" rx="1.3" ry="8" fill="#111" opacity="0.85"/>
<path d="M199.00,104.00 C199.83,101.00 206.17,96.83 210.00,94.00 C213.83,91.17 218.33,88.50 222.00,87.00 C225.67,85.50 228.50,85.83 232.00,85.00 C235.50,84.17 240.83,81.83 243.00,82.00 C245.17,82.17 245.17,83.67 245.00,86.00 C244.83,88.33 242.83,92.33 242.00,96.00 C241.17,99.67 241.00,103.67 240.00,108.00 C239.00,112.33 237.83,118.67 236.00,122.00 C234.17,125.33 232.00,127.67 229.00,128.00 C226.00,128.33 222.00,126.67 218.00,124.00 C214.00,121.33 208.17,115.33 205.00,112.00 C201.83,108.67 198.17,107.00 199.00,104.00Z" fill="none" stroke="#bbb" stroke-width="0.5"/>
<path d="M226.00,89.00 C225.17,88.25 230.67,87.25 233.00,86.50 C235.33,85.75 238.17,84.75 240.00,84.50 C241.83,84.25 243.50,84.25 244.00,85.00 C244.50,85.75 244.00,88.00 243.00,89.00 C242.00,90.00 240.83,91.00 238.00,91.00 C235.17,91.00 226.83,89.75 226.00,89.00Z" fill="none" stroke="#999" stroke-width="0.6"/>
<path d="M204.57,102.30 C204.93,100.96 207.56,99.35 209.39,97.97 C211.22,96.60 213.08,95.38 215.55,94.06 C218.01,92.74 221.27,90.83 224.16,90.04 C227.04,89.24 230.49,89.20 232.86,89.29 C235.24,89.38 237.30,89.36 238.42,90.59 C239.54,91.82 239.55,94.59 239.58,96.66 C239.62,98.73 239.01,100.95 238.65,103.00 C238.30,105.05 238.29,106.78 237.44,108.96 C236.59,111.14 234.87,113.83 233.53,116.07 C232.19,118.32 230.95,121.26 229.39,122.44 C227.83,123.62 225.97,124.02 224.17,123.17 C222.37,122.32 220.53,119.29 218.60,117.33 C216.68,115.37 214.52,113.31 212.62,111.43 C210.73,109.54 208.60,107.56 207.26,106.04 C205.92,104.52 204.22,103.65 204.57,102.30Z" fill="#f4f4f4" stroke="#707070" stroke-width="0.75"/>
<path d="M208.35,102.19 C208.62,101.07 210.94,99.77 212.40,98.57 C213.85,97.36 215.05,96.16 217.09,94.96 C219.13,93.77 222.10,92.08 224.63,91.39 C227.15,90.71 230.17,90.75 232.24,90.86 C234.31,90.96 236.06,90.95 237.06,92.01 C238.05,93.07 238.14,95.42 238.21,97.22 C238.29,99.01 237.80,100.98 237.53,102.81 C237.26,104.64 237.38,106.35 236.58,108.21 C235.78,110.08 233.97,112.17 232.74,113.99 C231.50,115.81 230.48,118.23 229.16,119.13 C227.85,120.03 226.37,120.04 224.83,119.37 C223.30,118.69 221.66,116.60 219.95,115.06 C218.24,113.53 216.10,111.79 214.57,110.16 C213.04,108.53 211.82,106.63 210.78,105.30 C209.75,103.97 208.08,103.32 208.35,102.19Z" fill="#eeeeee" stroke="#707070" stroke-width="0.75"/>
<path d="M211.53,102.09 C211.71,101.15 213.65,100.06 214.84,99.03 C216.03,98.00 216.97,96.98 218.67,95.91 C220.38,94.83 222.87,93.20 225.04,92.58 C227.22,91.95 229.97,91.99 231.72,92.16 C233.48,92.32 234.73,92.62 235.59,93.55 C236.45,94.49 236.69,96.25 236.86,97.77 C237.04,99.28 236.85,101.04 236.62,102.63 C236.38,104.23 236.22,105.72 235.46,107.32 C234.70,108.91 233.15,110.69 232.07,112.21 C230.99,113.72 230.11,115.70 228.98,116.42 C227.86,117.14 226.63,117.11 225.33,116.53 C224.04,115.95 222.62,114.25 221.21,112.94 C219.79,111.64 218.08,110.09 216.84,108.71 C215.60,107.33 214.63,105.76 213.75,104.66 C212.86,103.56 211.35,103.03 211.53,102.09Z" fill="#e6e6e6" stroke="#707070" stroke-width="0.75"/>
<path d="M214.96,101.99 C215.10,101.23 216.39,100.34 217.29,99.50 C218.19,98.65 218.98,97.84 220.35,96.91 C221.72,95.99 223.73,94.46 225.51,93.95 C227.30,93.44 229.59,93.69 231.05,93.85 C232.51,94.01 233.57,94.16 234.28,94.92 C234.99,95.68 235.14,97.16 235.33,98.41 C235.53,99.67 235.61,101.11 235.44,102.45 C235.28,103.78 235.02,105.08 234.35,106.42 C233.68,107.77 232.37,109.36 231.43,110.50 C230.50,111.64 229.69,112.76 228.76,113.27 C227.83,113.78 226.92,113.96 225.85,113.58 C224.79,113.20 223.54,112.01 222.37,110.98 C221.21,109.95 219.85,108.56 218.86,107.40 C217.87,106.25 217.09,104.97 216.44,104.07 C215.79,103.17 214.82,102.75 214.96,101.99Z" fill="#dedede" stroke="#707070" stroke-width="0.75"/>
<path d="M218.21,101.89 C218.33,101.30 219.12,100.64 219.72,99.96 C220.33,99.28 220.79,98.53 221.85,97.79 C222.90,97.06 224.61,95.96 226.04,95.55 C227.48,95.14 229.31,95.20 230.46,95.33 C231.61,95.47 232.32,95.75 232.92,96.35 C233.52,96.95 233.83,97.95 234.04,98.94 C234.24,99.92 234.28,101.17 234.13,102.26 C233.98,103.35 233.73,104.42 233.15,105.47 C232.58,106.52 231.45,107.68 230.69,108.55 C229.93,109.42 229.32,110.33 228.59,110.70 C227.87,111.07 227.16,111.10 226.35,110.78 C225.53,110.45 224.62,109.52 223.70,108.75 C222.78,107.97 221.63,106.99 220.85,106.12 C220.07,105.25 219.44,104.21 219.00,103.50 C218.56,102.80 218.09,102.48 218.21,101.89Z" fill="#d6d6d6" stroke="#707070" stroke-width="0.75"/>
<path d="M220.95,101.79 C221.02,101.36 221.52,100.89 221.92,100.37 C222.32,99.86 222.61,99.30 223.37,98.70 C224.13,98.11 225.40,97.13 226.48,96.82 C227.56,96.52 228.98,96.74 229.85,96.87 C230.71,97.01 231.23,97.20 231.67,97.65 C232.12,98.10 232.32,98.86 232.49,99.59 C232.67,100.33 232.78,101.24 232.70,102.07 C232.62,102.90 232.46,103.78 232.01,104.57 C231.57,105.36 230.63,106.22 230.03,106.82 C229.44,107.42 228.96,107.95 228.43,108.17 C227.89,108.40 227.41,108.37 226.81,108.16 C226.20,107.95 225.48,107.45 224.79,106.91 C224.10,106.38 223.21,105.61 222.66,104.95 C222.11,104.29 221.78,103.48 221.50,102.96 C221.21,102.43 220.88,102.22 220.95,101.79Z" fill="#dadada" stroke="#707070" stroke-width="0.75"/>
<path d="M223.74,101.68 C223.77,101.41 223.94,101.11 224.16,100.79 C224.38,100.46 224.59,100.10 225.07,99.73 C225.55,99.36 226.35,98.74 227.04,98.54 C227.72,98.35 228.62,98.48 229.17,98.57 C229.71,98.66 230.01,98.81 230.30,99.09 C230.59,99.37 230.77,99.81 230.89,100.27 C231.01,100.73 231.08,101.32 231.04,101.86 C231.00,102.40 230.93,103.01 230.64,103.51 C230.35,104.01 229.69,104.53 229.29,104.88 C228.90,105.23 228.60,105.47 228.26,105.60 C227.92,105.73 227.64,105.77 227.26,105.66 C226.87,105.55 226.38,105.28 225.96,104.94 C225.54,104.60 225.06,104.04 224.73,103.62 C224.40,103.19 224.14,102.73 223.98,102.40 C223.81,102.08 223.71,101.95 223.74,101.68Z" fill="#eeeeee" stroke="#707070" stroke-width="0.75"/>
<path d="M248.00,69.00 C250.42,67.08 259.50,66.67 262.00,68.50 C264.50,70.33 262.92,75.92 263.00,80.00 C263.08,84.08 265.00,90.80 262.50,93.00 C260.00,95.20 250.50,95.37 248.00,93.20 C245.50,91.03 247.50,84.03 247.50,80.00 C247.50,75.97 245.58,70.92 248.00,69.00Z" fill="none" stroke="#999" stroke-width="0.6"/>
<path d="M251.00,71.50 C251.83,70.75 254.42,70.42 256.00,70.50 C257.58,70.58 259.75,70.08 260.50,72.00 C261.25,73.92 260.42,78.83 260.50,82.00 C260.58,85.17 262.25,89.42 261.00,91.00 C259.75,92.58 254.58,92.50 253.00,91.50 C251.42,90.50 251.33,87.08 251.50,85.00 C251.67,82.92 254.08,80.67 254.00,79.00 C253.92,77.33 251.50,76.25 251.00,75.00 C250.50,73.75 250.17,72.25 251.00,71.50Z" fill="#e8e8e8" stroke="#777" stroke-width="0.7"/>
<path d="M256.00,78.00 C256.67,77.33 258.00,78.33 258.50,80.00 C259.00,81.67 259.58,86.50 259.00,88.00 C258.42,89.50 255.75,89.67 255.00,89.00 C254.25,88.33 254.33,85.83 254.50,84.00 C254.67,82.17 255.33,78.67 256.00,78.00Z" fill="none" stroke="#888" stroke-width="0.6"/>
<path d="M246.3,117.9h0.8 M245.3,114.9h0.8 M249.6,122.8h0.8 M254.2,110.5h0.8 M248.6,114.3h0.8 M249.8,102.3h0.8 M249.8,129.0h0.8 M255.4,111.7h0.8 M247.1,104.6h0.8 M250.7,117.6h0.8 M249.5,125.8h0.8 M247.0,117.7h0.8 M249.6,112.6h0.8 M259.3,107.2h0.8" fill="none" stroke="#aaa" stroke-width="0.8"/>
<rect x="94.5" y="47" width="85.80000000000001" height="85" fill="none" stroke="#1a1a1a" stroke-width="1.2"/>
<path d="M95.5,132v1.6 M97.5,132v1.6 M98.7,132v1.6 M100.7,132v2.4 M104.1,132v1.6 M106.1,132v1.6 M108.1,132v1.6 M109.3,132v2.4 M111.9,132v1.6 M114.5,132v1.6 M117.1,132v1.6 M120.5,132v1.6 M123.1,132v1.6 M124.7,132v2.4 M125.9,132v1.6 M129.3,132v2.4 M130.9,132v2.4 M132.9,132v1.6 M135.5,132v1.6 M137.1,132v1.6 M139.7,132v2.4 M140.9,132v1.6 M143.5,132v1.6 M145.5,132v2.4 M147.1,132v1.6 M148.7,132v2.4 M150.7,132v1.6 M153.3,132v1.6 M155.9,132v1.6 M157.1,132v1.6 M159.7,132v2.4 M163.1,132v2.4 M165.1,132v2.4 M168.5,132v2.4 M170.1,132v1.6 M171.3,132v1.6 M172.9,132v1.6 M174.5,132v1.6 M176.1,132v1.6 M177.3,132v1.6 M94.5,48.0h-1.6 M94.5,50.4h-1.6 M94.5,56.4h-1.6 M94.5,58.8h-1.6 M94.5,61.2h-1.6 M94.5,65.7h-1.6 M94.5,71.7h-1.6 M94.5,74.9h-1.6 M94.5,80.9h-1.6 M94.5,85.4h-2.4 M94.5,87.8h-1.6 M94.5,91.0h-2.4 M94.5,95.5h-1.6 M94.5,100.0h-1.6 M94.5,104.5h-1.6 M94.5,110.5h-1.6 M94.5,113.7h-1.6 M94.5,116.9h-2.4 M94.5,119.3h-1.6 M94.5,121.7h-1.6 M94.5,124.9h-1.6 M94.5,128.1h-1.6 M94.5,130.5h-2.4" fill="none" stroke="#222" stroke-width="0.85"/>
<rect x="192.2" y="47" width="85.10000000000002" height="85" fill="none" stroke="#1a1a1a" stroke-width="1.2"/>
<path d="M193.2,132v1.6 M194.8,132v1.6 M196.0,132v1.6 M197.2,132v1.6 M198.4,132v2.4 M201.0,132v1.6 M203.6,132v2.4 M205.2,132v1.6 M207.2,132v1.6 M208.8,132v1.6 M210.0,132v1.6 M213.4,132v2.4 M215.0,132v2.4 M216.6,132v1.6 M220.0,132v1.6 M222.6,132v2.4 M223.8,132v2.4 M225.4,132v2.4 M228.8,132v2.4 M231.4,132v1.6 M233.4,132v1.6 M236.0,132v1.6 M239.4,132v1.6 M240.6,132v1.6 M244.0,132v1.6 M247.4,132v1.6 M249.0,132v1.6 M252.4,132v1.6 M253.6,132v1.6 M255.2,132v1.6 M257.2,132v2.4 M260.6,132v2.4 M261.8,132v1.6 M263.8,132v1.6 M265.0,132v1.6 M266.2,132v1.6 M268.8,132v2.4 M271.4,132v1.6 M273.0,132v1.6 M274.6,132v2.4 M192.2,48.0h-1.6 M192.2,51.2h-2.4 M192.2,53.6h-1.6 M192.2,58.1h-1.6 M192.2,60.5h-1.6 M192.2,65.0h-2.4 M192.2,68.2h-1.6 M192.2,74.2h-2.4 M192.2,77.4h-1.6 M192.2,79.8h-2.4 M192.2,83.0h-1.6 M192.2,89.0h-1.6 M192.2,95.0h-1.6 M192.2,97.4h-2.4 M192.2,101.9h-2.4 M192.2,104.3h-1.6 M192.2,105.9h-1.6 M192.2,111.9h-1.6 M192.2,115.1h-2.4 M192.2,118.3h-2.4 M192.2,122.8h-1.6 M192.2,128.8h-2.4 M192.2,130.4h-1.6" fill="none" stroke="#222" stroke-width="0.85"/>
<rect x="147.7" y="65.4" width="18.900000000000006" height="29.599999999999994" fill="none" stroke="#000" stroke-width="1.6"/>
<rect x="146.6" y="98.2" width="19.900000000000006" height="32.8" fill="none" stroke="#000" stroke-width="1.6"/>
<rect x="245.4" y="65.8" width="19.200000000000017" height="29.200000000000003" fill="none" stroke="#000" stroke-width="1.6"/>
<rect x="243.8" y="98.2" width="20.5" height="32.60000000000001" fill="none" stroke="#000" stroke-width="1.6"/>
<text x="121.0" y="62.04" font-size="11.608" text-anchor="start">46.4</text>
<text x="223.57" y="62.47" font-size="12.938" text-anchor="start">11.3</text>
<text x="148.16" y="124.91" font-size="10.928" text-anchor="start">1.1</text>
<text x="245.89" y="124.91" font-size="11.92" text-anchor="start">1.2</text>
<line x1="82" y1="104.6" x2="82" y2="54.0" stroke="#000" stroke-width="1.5"/>
<path d="M79.0,54.5 L82,48.3 L85.0,54.5 Z" fill="#000"/>
<text x="86.08" y="132.34" font-size="10.765" text-anchor="start" transform="rotate(-90 86.08 132.34)">I-A</text>
<text x="93.16" y="149.64" font-size="12.733" text-anchor="start">CD11c</text>
<line x1="141.2" y1="145.8" x2="271.5" y2="145.8" stroke="#000" stroke-width="1.5"/>
<path d="M271.0,142.8 L277.2,145.8 L271.0,148.8 Z" fill="#000"/>
<line x1="153.9" y1="132" x2="153.9" y2="154.10000000000002" stroke="#000" stroke-width="1.5"/>
<path d="M150.9,153.60000000000002 L153.9,159.8 L156.9,153.60000000000002 Z" fill="#000"/>
<line x1="252.3" y1="132" x2="252.3" y2="154.10000000000002" stroke="#000" stroke-width="1.5"/>
<path d="M249.3,153.60000000000002 L252.3,159.8 L255.3,153.60000000000002 Z" fill="#000"/>
<rect x="94.3" y="163" width="85.7" height="85.7" fill="none" stroke="#1a1a1a" stroke-width="1.2"/>
<path d="M95.3,248.7v1.6 M97.3,248.7v2.4 M99.9,248.7v2.4 M101.1,248.7v2.4 M102.3,248.7v1.6 M104.3,248.7v2.4 M105.9,248.7v1.6 M108.5,248.7v1.6 M111.1,248.7v2.4 M112.7,248.7v2.4 M113.9,248.7v1.6 M117.3,248.7v1.6 M120.7,248.7v1.6 M124.1,248.7v2.4 M126.1,248.7v2.4 M127.7,248.7v1.6 M129.3,248.7v2.4 M130.5,248.7v2.4 M131.7,248.7v1.6 M132.9,248.7v1.6 M134.5,248.7v1.6 M136.1,248.7v1.6 M137.7,248.7v2.4 M140.3,248.7v2.4 M143.7,248.7v1.6 M146.3,248.7v1.6 M148.3,248.7v1.6 M151.7,248.7v1.6 M155.1,248.7v1.6 M156.7,248.7v2.4 M159.3,248.7v1.6 M161.3,248.7v1.6 M162.9,248.7v1.6 M164.5,248.7v1.6 M166.5,248.7v1.6 M168.1,248.7v1.6 M170.7,248.7v1.6 M171.9,248.7v2.4 M175.3,248.7v2.4 M177.3,248.7v2.4 M178.5,248.7v1.6 M94.3,164.0h-1.6 M94.3,165.6h-1.6 M94.3,171.6h-2.4 M94.3,173.2h-1.6 M94.3,179.2h-1.6 M94.3,183.7h-2.4 M94.3,186.1h-2.4 M94.3,187.7h-1.6 M94.3,190.1h-1.6 M94.3,191.7h-2.4 M94.3,196.2h-1.6 M94.3,199.4h-1.6 M94.3,201.0h-2.4 M94.3,203.4h-1.6 M94.3,209.4h-2.4 M94.3,212.6h-2.4 M94.3,215.8h-2.4 M94.3,217.4h-1.6 M94.3,223.4h-1.6 M94.3,225.8h-2.4 M94.3,230.3h-2.4 M94.3,232.7h-2.4 M94.3,237.2h-1.6 M94.3,238.8h-1.6 M94.3,243.3h-1.6" fill="none" stroke="#222" stroke-width="0.85"/>
<rect x="192" y="163" width="86" height="85.7" fill="none" stroke="#1a1a1a" stroke-width="1.2"/>
<path d="M193.0,248.7v1.6 M196.4,248.7v1.6 M197.6,248.7v1.6 M199.6,248.7v1.6 M200.8,248.7v1.6 M202.8,248.7v2.4 M205.4,248.7v1.6 M206.6,248.7v1.6 M210.0,248.7v1.6 M212.0,248.7v1.6 M214.6,248.7v1.6 M215.8,248.7v2.4 M219.2,248.7v1.6 M221.8,248.7v2.4 M224.4,248.7v1.6 M227.0,248.7v2.4 M229.6,248.7v2.4 M231.2,248.7v1.6 M232.8,248.7v1.6 M236.2,248.7v1.6 M238.8,248.7v2.4 M242.2,248.7v1.6 M244.2,248.7v1.6 M245.8,248.7v1.6 M248.4,248.7v2.4 M251.0,248.7v1.6 M252.6,248.7v1.6 M255.2,248.7v2.4 M258.6,248.7v1.6 M260.2,248.7v2.4 M262.8,248.7v1.6 M266.2,248.7v1.6 M269.6,248.7v1.6 M273.0,248.7v1.6 M274.2,248.7v2.4 M275.4,248.7v1.6 M192,164.0h-1.6 M192,166.4h-1.6 M192,168.0h-1.6 M192,171.2h-2.4 M192,173.6h-1.6 M192,176.0h-1.6 M192,178.4h-1.6 M192,181.6h-2.4 M192,183.2h-1.6 M192,185.6h-1.6 M192,188.8h-1.6 M192,192.0h-1.6 M192,195.2h-2.4 M192,197.6h-1.6 M192,200.0h-1.6 M192,201.6h-1.6 M192,206.1h-1.6 M192,207.7h-1.6 M192,212.2h-1.6 M192,214.6h-2.4 M192,216.2h-1.6 M192,219.4h-1.6 M192,221.8h-1.6 M192,224.2h-1.6 M192,225.8h-2.4 M192,229.0h-1.6 M192,231.4h-1.6 M192,235.9h-2.4 M192,239.1h-1.6 M192,242.3h-1.6" fill="none" stroke="#222" stroke-width="0.85"/>
<text x="85.92" y="239.12" font-size="11.764" text-anchor="start" transform="rotate(-90 85.92 239.12)">Cell number</text>
<text x="93.28" y="263.38" font-size="12.028" text-anchor="start">Flt3</text>
<line x1="124.5" y1="259.5" x2="272.5" y2="259.5" stroke="#000" stroke-width="1.5"/>
<path d="M272.0,256.5 L278.2,259.5 L272.0,262.5 Z" fill="#000"/>
<polygon points="95.0,248.0 96.0,246.5 96.8,246.4 97.6,246.3 98.4,246.2 99.2,246.1 100.0,246.0 100.8,245.9 101.6,245.8 102.4,245.7 103.2,245.6 104.0,245.5 104.8,245.1 105.5,244.8 106.2,244.4 107.0,244.0 107.8,241.3 108.7,240.6 109.5,240.0 110.2,239.1 111.0,237.2 111.7,235.6 113.0,241.0 113.8,241.4 114.6,244.0 115.3,239.2 116.0,232.0 116.8,225.9 117.5,217.3 118.2,214.7 119.0,212.0 119.7,208.9 120.4,205.8 121.5,200.0 122.4,193.2 123.3,188.5 124.5,180.0 125.5,172.0 126.2,170.2 127.0,176.0 128.0,190.0 129.0,198.0 130.0,206.0 131.0,213.5 132.0,222.0 132.9,230.8 134.0,238.0 134.9,239.1 135.8,244.2 136.7,245.6 137.5,247.0 138.6,247.5 139.6,248.0" fill="#a0a0a0" stroke="#959595" stroke-width="0.4"/>
<polyline points="95.0,247.5 100.0,246.5 105.0,247.0 110.0,246.0 115.0,246.5 120.0,245.0 123.0,242.0 126.2,236.5 127.5,238.0 129.0,234.6 130.5,231.0 132.3,229.8 133.5,234.0 135.8,240.4 137.5,244.0 139.6,245.0 140.6,244.3 142.3,238.8 143.8,230.0 145.0,221.5 145.7,210.0 146.0,200.6 146.6,184.6 147.4,175.0 148.2,168.6 149.0,175.0 149.9,184.6 150.9,200.6 151.5,211.0 152.2,221.5 153.0,230.0 154.0,238.8 156.5,245.0 159.0,246.8 162.0,247.3 170.0,247.5 179.5,247.5" fill="none" stroke="#000" stroke-width="0.95"/>
<line x1="138.8" y1="201.3" x2="165" y2="201.3" stroke="#000" stroke-width="1.5"/>
<line x1="138.8" y1="198.8" x2="138.8" y2="203.8" stroke="#000" stroke-width="1.5"/>
<line x1="165" y1="198.8" x2="165" y2="203.8" stroke="#000" stroke-width="1.5"/>
<text x="152.8" y="197.57" font-size="12.145" text-anchor="start">73.0</text>
<polygon points="193.0,248.0 194.0,246.5 195.0,245.0 195.8,244.1 196.5,241.4 197.3,242.3 198.2,244.2 199.0,246.0 199.8,246.2 200.6,246.4 201.4,246.6 202.2,246.8 203.0,247.0 203.8,246.9 204.6,246.8 205.4,246.7 206.2,246.6 207.0,246.5 207.9,241.8 208.8,240.0 210.0,236.0 210.8,235.1 211.5,238.0 212.2,237.5 213.0,233.0 213.8,233.2 214.5,236.0 215.5,226.0 216.5,215.4 217.5,211.9 218.5,211.5 219.5,203.0 220.4,198.3 221.3,192.3 222.5,184.0 223.8,175.0 225.2,173.0 226.5,184.6 227.5,178.0 228.5,169.2 229.5,180.0 230.4,198.0 231.2,212.0 232.0,227.0 233.0,238.0 233.8,244.2 235.0,248.0" fill="#a0a0a0" stroke="#959595" stroke-width="0.4"/>
<polyline points="193.0,247.5 195.0,244.0 197.0,246.0 200.0,247.0 205.0,246.5 210.0,245.5 215.0,245.0 220.0,244.0 224.0,241.0 227.0,236.5 228.5,239.0 230.0,237.0 232.0,242.3 234.5,245.0 236.7,246.0 237.4,245.5 240.5,238.8 242.2,230.0 243.5,221.5 245.0,210.0 246.0,200.6 246.6,184.6 247.8,174.0 248.7,168.6 249.6,174.0 250.9,184.6 251.6,192.0 252.4,200.6 253.1,211.0 254.0,221.5 255.0,230.0 256.5,238.8 258.9,245.0 261.0,246.8 265.0,247.3 270.0,247.5 277.5,247.5" fill="none" stroke="#000" stroke-width="0.95"/>
<line x1="236.3" y1="201.3" x2="263" y2="201.3" stroke="#000" stroke-width="1.5"/>
<line x1="236.3" y1="198.8" x2="236.3" y2="203.8" stroke="#000" stroke-width="1.5"/>
<line x1="263" y1="198.8" x2="263" y2="203.8" stroke="#000" stroke-width="1.5"/>
<text x="251.88" y="197.57" font-size="11.64" text-anchor="start">79.1</text>
<path d="M369.6,86.2 V217 H424 v-2" fill="none" stroke="#333" stroke-width="1.2"/>
<line x1="367.1" y1="86.2" x2="369.6" y2="86.2" stroke="#333" stroke-width="1.0"/>
<line x1="367.1" y1="151.6" x2="369.6" y2="151.6" stroke="#333" stroke-width="1.0"/>
<text x="363.33" y="90.58" font-size="11.844" text-anchor="end">0.2</text>
<text x="363.93" y="156.17" font-size="12.473" text-anchor="end">0.1</text>
<text x="364.31" y="221.33" font-size="11.728" text-anchor="end">0</text>
<line x1="387.7" y1="171.6" x2="387.7" y2="169.4" stroke="#000" stroke-width="1.2"/>
<line x1="385.5" y1="169.4" x2="390" y2="169.4" stroke="#000" stroke-width="1.2"/>
<rect x="378.3" y="171.6" width="19" height="45.400000000000006" fill="#fff" stroke="#000" stroke-width="1.2"/>
<line x1="407.2" y1="165.8" x2="407.2" y2="156.8" stroke="#000" stroke-width="1.2"/>
<line x1="404.8" y1="156.8" x2="409.6" y2="156.8" stroke="#000" stroke-width="1.2"/>
<rect x="397.3" y="165.8" width="19.6" height="51.19999999999999" fill="#000" stroke="#000" stroke-width="1.2"/>
<text x="367.08" y="234.6" font-size="13.739" text-anchor="start">Pre-cDCs</text>
<text x="335.96" y="151.62" font-size="12.341" text-anchor="middle" transform="rotate(-90 335.96 151.62)">% of splenocytes</text>
<rect x="429.8" y="79.3" width="11" height="10.6" fill="#fff" stroke="#000" stroke-width="1.3"/>
<rect x="429.8" y="95.8" width="11" height="10.2" fill="#000" stroke="#000" stroke-width="1.3"/>
<text x="445.68" y="88.64" font-size="11.344" text-anchor="start">WT</text>
<text x="445.95" y="104.79" font-size="11.363" text-anchor="start">MT</text>
<text x="56.95" y="297.6" font-size="24.607" text-anchor="start">B</text>
<line x1="93.8" y1="298.8" x2="155.5" y2="298.8" stroke="#000" stroke-width="1.3"/>
<line x1="213.8" y1="298.8" x2="275" y2="298.8" stroke="#000" stroke-width="1.3"/>
<text x="168.6" y="303.2" font-size="12.122" text-anchor="start">cDCs</text>
<text x="101.0" y="321.07" font-size="12.205" text-anchor="start">WT pre-cDC</text>
<text x="199.38" y="321.07" font-size="12.34" text-anchor="start">MT pre-cDC</text>
<rect x="94.3" y="330.3" width="85.10000000000001" height="84.5" fill="none" stroke="#1a1a1a" stroke-width="1.2"/>
<path d="M95.3,414.8v1.6 M98.7,414.8v1.6 M99.9,414.8v1.6 M103.3,414.8v1.6 M104.9,414.8v1.6 M106.1,414.8v1.6 M108.1,414.8v1.6 M109.7,414.8v1.6 M111.3,414.8v2.4 M112.5,414.8v1.6 M114.1,414.8v1.6 M116.7,414.8v2.4 M119.3,414.8v2.4 M122.7,414.8v1.6 M124.3,414.8v1.6 M126.9,414.8v1.6 M128.1,414.8v1.6 M129.3,414.8v1.6 M131.9,414.8v1.6 M133.5,414.8v2.4 M136.9,414.8v1.6 M140.3,414.8v1.6 M142.9,414.8v1.6 M144.5,414.8v1.6 M145.7,414.8v1.6 M148.3,414.8v2.4 M149.5,414.8v2.4 M152.1,414.8v1.6 M153.7,414.8v2.4 M157.1,414.8v2.4 M158.3,414.8v2.4 M161.7,414.8v1.6 M164.3,414.8v1.6 M165.9,414.8v1.6 M167.1,414.8v1.6 M168.7,414.8v2.4 M169.9,414.8v1.6 M171.9,414.8v1.6 M174.5,414.8v1.6 M176.5,414.8v1.6 M94.3,331.3h-1.6 M94.3,332.9h-1.6 M94.3,338.9h-1.6 M94.3,344.9h-1.6 M94.3,347.3h-1.6 M94.3,353.3h-2.4 M94.3,355.7h-2.4 M94.3,361.7h-1.6 M94.3,366.2h-1.6 M94.3,369.4h-2.4 M94.3,372.6h-1.6 M94.3,375.0h-1.6 M94.3,377.4h-1.6 M94.3,379.8h-1.6 M94.3,383.0h-2.4 M94.3,389.0h-1.6 M94.3,392.2h-2.4 M94.3,398.2h-1.6 M94.3,402.7h-1.6 M94.3,405.9h-1.6 M94.3,407.5h-1.6 M94.3,412.0h-1.6" fill="none" stroke="#222" stroke-width="0.85"/>
<rect x="192.7" y="330.3" width="86.10000000000002" height="84.5" fill="none" stroke="#1a1a1a" stroke-width="1.2"/>
<path d="M193.7,414.8v2.4 M197.1,414.8v1.6 M200.5,414.8v2.4 M202.1,414.8v2.4 M203.3,414.8v1.6 M205.9,414.8v1.6 M209.3,414.8v2.4 M210.5,414.8v1.6 M212.5,414.8v1.6 M213.7,414.8v1.6 M217.1,414.8v1.6 M219.7,414.8v1.6 M223.1,414.8v1.6 M225.1,414.8v1.6 M227.7,414.8v1.6 M230.3,414.8v2.4 M231.5,414.8v1.6 M234.1,414.8v1.6 M235.7,414.8v1.6 M236.9,414.8v1.6 M240.3,414.8v2.4 M241.5,414.8v1.6 M244.9,414.8v2.4 M247.5,414.8v1.6 M248.7,414.8v1.6 M249.9,414.8v1.6 M251.1,414.8v1.6 M254.5,414.8v1.6 M256.1,414.8v1.6 M259.5,414.8v1.6 M261.5,414.8v1.6 M264.9,414.8v1.6 M266.5,414.8v2.4 M267.7,414.8v1.6 M271.1,414.8v1.6 M272.7,414.8v2.4 M273.9,414.8v1.6 M275.9,414.8v2.4 M192.7,331.3h-1.6 M192.7,337.3h-1.6 M192.7,340.5h-1.6 M192.7,343.7h-1.6 M192.7,348.2h-2.4 M192.7,349.8h-2.4 M192.7,353.0h-1.6 M192.7,359.0h-1.6 M192.7,362.2h-1.6 M192.7,364.6h-1.6 M192.7,366.2h-1.6 M192.7,370.7h-1.6 M192.7,375.2h-1.6 M192.7,376.8h-1.6 M192.7,379.2h-2.4 M192.7,382.4h-1.6 M192.7,384.0h-1.6 M192.7,390.0h-1.6 M192.7,396.0h-1.6 M192.7,397.6h-1.6 M192.7,400.8h-1.6 M192.7,406.8h-1.6 M192.7,409.2h-1.6" fill="none" stroke="#222" stroke-width="0.85"/>
<text x="85.64" y="372.98" font-size="12.06" text-anchor="middle" transform="rotate(-90 85.64 372.98)">Cell number</text>
<polyline points="95.0,402.7 95.8,407.3 96.7,401.1 97.2,406.7 98.2,403.5 98.9,411.6 99.6,402.4 100.4,409.7 101.0,404.0 102.0,409.6 103.0,403.3 103.5,411.3 104.4,404.0 104.9,411.8 105.7,401.8 106.7,409.5 107.8,403.1 108.8,407.0 109.8,400.1 110.4,405.8 111.0,398.6 111.8,408.2 112.4,400.4 113.2,406.8 114.0,401.1 115.1,407.7 116.1,401.5 117.3,409.3 117.8,401.2 118.9,411.8 119.8,402.0 120.4,411.4 121.2,404.6 121.8,410.5 122.9,405.3 123.9,408.4 124.5,403.7 125.4,410.3 125.9,400.9 126.4,409.3 127.1,399.0 128.2,406.7 129.4,401.3 129.9,405.7 130.4,401.4 131.1,405.7 131.7,401.4 132.7,405.2 133.8,397.3 134.6,406.2 135.4,399.6 136.2,406.4 137.1,400.1 137.9,406.4 138.9,402.5 139.5,409.8 140.3,400.9 140.8,407.8" fill="none" stroke="#222" stroke-width="0.75"/>
<path d="M141.6,404 L142.1,394 L142.6,400 L143.2,391 L143.7,396 L144.3,372 L145.1,331.4 L172.4,331.4 L175,413.5 L179,414" fill="none" stroke="#111" stroke-width="1.15"/>
<path d="M141.6,405 L142.1,394 L142.6,399 L143.2,391 L143.8,393 L144.2,371" fill="none" stroke="#000" stroke-width="1.1"/>
<path d="M94.5,371.8 H133.8 M133.8,369.3 V374.3 M129.6,371.8 V365.6 H148.1 V415" fill="none" stroke="#000" stroke-width="1.5"/>
<text x="102.52" y="366.54" font-size="11.909" text-anchor="start">0.18</text>
<polyline points="194.0,411.5 194.7,413.9 195.5,411.3 196.3,413.0 196.9,411.1 197.6,414.1 198.0,411.7 198.5,413.6 199.1,412.3 199.6,413.3 200.4,411.3 200.8,413.9 201.2,411.5 201.7,412.9 202.4,412.0 202.9,414.2 203.7,411.9 204.5,413.6 205.2,412.0 206.0,413.8 206.8,411.1 207.3,413.4 207.8,412.1 208.2,413.3 208.8,412.3 209.5,413.4 210.0,411.2 210.6,413.3 211.2,411.4 211.6,414.2 211.9,411.3 212.7,412.9 213.4,411.8 214.1,412.9 214.5,412.0 215.3,413.2 216.0,411.1 216.8,413.4 217.4,411.6 218.1,413.1 218.8,411.3 219.6,413.0 220.4,412.2 220.9,413.7 221.7,411.8 222.5,413.6 223.0,411.9 223.5,413.0 223.9,411.4 224.7,413.1 225.1,411.0 225.7,413.4 226.2,411.5 227.0,413.5 227.5,412.2 228.3,413.0 228.9,411.2 229.4,413.9 230.2,411.5 230.9,413.1 231.5,412.1 232.2,413.3 232.8,411.0" fill="none" stroke="#222" stroke-width="0.75"/>
<path d="M233,412 L233.8,406 L234.5,409 L235.3,401 L236,405 L236.8,397 L237.5,402 L238.3,395 L239.5,380 L241.5,355 L243.2,331.4 L270.6,331.4 L273.5,413.5 L278,414" fill="none" stroke="#111" stroke-width="1.15"/>
<path d="M233,412 L233.8,406 L234.5,409 L235.3,401 L236,405 L236.8,397 L237.5,402 L238.3,395" fill="none" stroke="#111" stroke-width="1.0"/>
<path d="M193,371.8 H229 M229,369.3 V374.3 M225.3,371.8 V365.6 H244.6 V415" fill="none" stroke="#000" stroke-width="1.5"/>
<text x="199.91" y="365.35" font-size="12.413" text-anchor="start">0.03</text>
<text x="93.49" y="432.88" font-size="11.827" text-anchor="start">Ly5.1</text>
<line x1="129.6" y1="429.1" x2="271.5" y2="429.1" stroke="#000" stroke-width="1.5"/>
<path d="M271.0,426.1 L277.2,429.1 L271.0,432.1 Z" fill="#000"/>
<line x1="148.1" y1="415" x2="148.1" y2="434.1" stroke="#000" stroke-width="1.5"/>
<path d="M145.1,433.6 L148.1,439.8 L151.1,433.6 Z" fill="#000"/>
<line x1="244.6" y1="415" x2="244.6" y2="433.90000000000003" stroke="#000" stroke-width="1.5"/>
<path d="M241.6,433.40000000000003 L244.6,439.6 L247.6,433.40000000000003 Z" fill="#000"/>
<rect x="94.5" y="443" width="85.0" height="85.2" fill="none" stroke="#1a1a1a" stroke-width="1.2"/>
<path d="M95.5,528.2v1.6 M97.1,528.2v2.4 M100.5,528.2v2.4 M101.7,528.2v1.6 M104.3,528.2v1.6 M106.3,528.2v2.4 M107.9,528.2v2.4 M109.1,528.2v2.4 M110.7,528.2v1.6 M111.9,528.2v2.4 M115.3,528.2v2.4 M118.7,528.2v1.6 M122.1,528.2v1.6 M123.7,528.2v1.6 M124.9,528.2v1.6 M126.5,528.2v1.6 M128.5,528.2v2.4 M130.5,528.2v1.6 M131.7,528.2v1.6 M135.1,528.2v2.4 M137.7,528.2v2.4 M141.1,528.2v1.6 M142.7,528.2v2.4 M143.9,528.2v2.4 M145.1,528.2v1.6 M146.3,528.2v1.6 M148.3,528.2v2.4 M149.5,528.2v1.6 M152.9,528.2v1.6 M155.5,528.2v1.6 M157.1,528.2v1.6 M159.7,528.2v1.6 M162.3,528.2v2.4 M163.9,528.2v1.6 M165.5,528.2v1.6 M167.5,528.2v1.6 M170.1,528.2v1.6 M172.1,528.2v1.6 M173.7,528.2v2.4 M175.3,528.2v1.6 M176.5,528.2v1.6 M178.1,528.2v1.6 M94.5,444.0h-1.6 M94.5,450.0h-1.6 M94.5,451.6h-2.4 M94.5,454.8h-1.6 M94.5,458.0h-2.4 M94.5,462.5h-2.4 M94.5,464.9h-1.6 M94.5,468.1h-1.6 M94.5,470.5h-1.6 M94.5,472.9h-1.6 M94.5,474.5h-1.6 M94.5,476.9h-2.4 M94.5,481.4h-1.6 M94.5,483.0h-2.4 M94.5,485.4h-1.6 M94.5,487.0h-1.6 M94.5,490.2h-1.6 M94.5,493.4h-2.4 M94.5,499.4h-2.4 M94.5,501.8h-1.6 M94.5,503.4h-1.6 M94.5,507.9h-1.6 M94.5,509.5h-1.6 M94.5,511.1h-1.6 M94.5,514.3h-1.6 M94.5,517.5h-1.6 M94.5,523.5h-2.4" fill="none" stroke="#222" stroke-width="0.85"/>
<rect x="193.3" y="443" width="85.5" height="85.2" fill="none" stroke="#1a1a1a" stroke-width="1.2"/>
<path d="M194.3,528.2v1.6 M197.7,528.2v1.6 M201.1,528.2v2.4 M203.7,528.2v1.6 M205.7,528.2v1.6 M208.3,528.2v2.4 M210.9,528.2v1.6 M213.5,528.2v1.6 M215.5,528.2v2.4 M216.7,528.2v1.6 M220.1,528.2v1.6 M223.5,528.2v2.4 M225.5,528.2v2.4 M228.9,528.2v1.6 M230.9,528.2v1.6 M232.9,528.2v1.6 M236.3,528.2v2.4 M237.5,528.2v2.4 M240.1,528.2v1.6 M242.1,528.2v1.6 M244.1,528.2v1.6 M247.5,528.2v2.4 M250.9,528.2v1.6 M252.1,528.2v1.6 M253.3,528.2v2.4 M256.7,528.2v2.4 M258.7,528.2v1.6 M261.3,528.2v2.4 M262.9,528.2v1.6 M264.9,528.2v1.6 M268.3,528.2v1.6 M271.7,528.2v1.6 M273.3,528.2v2.4 M275.3,528.2v2.4 M276.9,528.2v1.6 M193.3,444.0h-1.6 M193.3,448.5h-2.4 M193.3,451.7h-2.4 M193.3,453.3h-1.6 M193.3,459.3h-1.6 M193.3,463.8h-1.6 M193.3,468.3h-2.4 M193.3,472.8h-1.6 M193.3,476.0h-2.4 M193.3,480.5h-1.6 M193.3,483.7h-2.4 M193.3,485.3h-2.4 M193.3,486.9h-2.4 M193.3,490.1h-2.4 M193.3,496.1h-1.6 M193.3,497.7h-1.6 M193.3,499.3h-1.6 M193.3,503.8h-2.4 M193.3,507.0h-1.6 M193.3,510.2h-1.6 M193.3,514.7h-1.6 M193.3,519.2h-1.6 M193.3,523.7h-1.6" fill="none" stroke="#222" stroke-width="0.85"/>
<path d="M110.2,479.5h0.9 M128.0,475.9h0.9 M109.4,477.7h0.9 M123.8,482.4h0.9 M110.3,472.8h0.9 M125.6,479.9h0.9 M132.3,481.9h0.9 M119.2,476.9h0.9 M140.6,476.8h0.9 M113.7,473.4h0.9 M120.8,478.6h0.9 M117.2,477.8h0.9 M122.2,480.8h0.9 M128.8,478.8h0.9" fill="none" stroke="#777" stroke-width="0.9"/>
<path d="M135.7,478.9h0.9 M138.6,472.8h0.9 M138.2,474.0h0.9 M143.8,475.5h0.9 M176.4,473.7h0.9 M156.7,464.7h0.9 M147.7,478.6h0.9 M149.3,476.6h0.9 M150.8,467.0h0.9" fill="none" stroke="#777" stroke-width="0.9"/>
<path d="M128.2,500.3h0.9 M142.6,502.5h0.9 M129.5,506.0h0.9 M132.5,501.8h0.9 M133.0,505.1h0.9 M135.9,510.4h0.9 M123.6,500.5h0.9 M130.4,509.3h0.9 M140.1,503.4h0.9 M128.1,509.6h0.9 M125.1,507.5h0.9 M124.0,501.8h0.9 M110.8,503.2h0.9 M128.5,516.6h0.9 M132.7,513.4h0.9 M130.6,510.9h0.9 M124.0,511.4h0.9 M141.5,503.7h0.9 M114.4,519.7h0.9 M124.7,512.8h0.9 M131.6,498.0h0.9 M148.8,518.4h0.9 M123.9,511.3h0.9 M123.4,499.8h0.9 M120.8,508.6h0.9 M134.3,511.0h0.9 M122.7,515.5h0.9 M113.6,511.6h0.9 M134.2,504.0h0.9 M102.3,499.7h0.9 M124.6,509.7h0.9 M139.0,499.0h0.9 M122.0,510.5h0.9 M120.3,489.4h0.9 M130.9,522.2h0.9 M133.0,499.6h0.9 M117.5,507.6h0.9 M149.4,510.3h0.9 M123.3,516.9h0.9 M121.1,519.0h0.9 M114.5,502.7h0.9 M129.9,516.0h0.9 M129.2,508.1h0.9 M102.0,501.0h0.9 M115.3,502.3h0.9 M128.5,503.7h0.9 M130.7,506.6h0.9 M118.3,506.8h0.9 M126.7,512.0h0.9 M116.7,504.4h0.9 M107.0,517.2h0.9 M138.0,504.7h0.9 M116.7,497.3h0.9 M123.9,507.4h0.9 M146.0,507.7h0.9 M113.4,488.9h0.9 M137.5,507.3h0.9 M104.3,507.3h0.9 M134.3,510.0h0.9 M120.1,491.0h0.9 M120.6,495.1h0.9 M128.6,491.0h0.9 M112.0,514.5h0.9 M140.1,497.7h0.9 M105.1,512.2h0.9 M131.4,499.1h0.9 M114.4,501.1h0.9 M108.9,501.2h0.9 M135.8,510.8h0.9" fill="none" stroke="#666" stroke-width="0.9"/>
<path d="M138.3,502.7h0.9 M127.3,499.1h0.9 M127.4,497.7h0.9 M119.1,505.8h0.9 M135.2,506.3h0.9 M134.7,504.0h0.9 M124.4,503.3h0.9 M126.1,498.6h0.9 M119.5,497.1h0.9 M128.0,503.6h0.9 M125.6,508.7h0.9 M128.9,505.3h0.9 M134.1,499.7h0.9 M118.2,506.0h0.9 M124.6,508.2h0.9 M129.7,507.0h0.9 M131.8,494.7h0.9 M131.6,500.3h0.9 M124.2,501.3h0.9 M131.8,506.5h0.9 M133.1,496.4h0.9 M125.0,493.5h0.9 M127.5,505.4h0.9 M124.2,504.0h0.9 M129.2,507.0h0.9 M123.9,499.7h0.9 M124.2,510.0h0.9 M133.5,502.5h0.9 M129.1,503.5h0.9 M129.0,502.2h0.9" fill="none" stroke="#555" stroke-width="0.9"/>
<path d="M140.3,498.7h0.9 M138.8,513.3h0.9 M144.7,505.3h0.9 M140.9,505.3h0.9 M143.8,501.8h0.9 M143.0,506.2h0.9 M138.3,501.1h0.9 M137.0,499.7h0.9 M146.4,493.2h0.9 M140.7,501.9h0.9 M138.9,505.5h0.9 M147.6,505.4h0.9 M141.3,501.9h0.9 M141.4,509.6h0.9 M140.0,499.3h0.9 M135.7,499.5h0.9 M135.1,510.5h0.9 M143.8,503.8h0.9 M149.3,501.7h0.9 M145.8,509.0h0.9 M134.3,497.2h0.9 M137.4,509.5h0.9 M148.5,498.9h0.9 M147.2,503.1h0.9 M140.0,502.2h0.9 M140.4,495.9h0.9 M137.0,498.8h0.9 M144.5,515.4h0.9 M155.7,503.3h0.9 M133.4,503.0h0.9 M137.3,514.9h0.9 M144.9,501.4h0.9 M146.7,507.7h0.9 M133.9,502.3h0.9 M140.8,505.1h0.9 M142.7,503.3h0.9 M142.9,502.1h0.9 M137.5,512.6h0.9 M143.8,507.2h0.9 M134.0,504.2h0.9 M146.1,498.5h0.9 M147.5,503.1h0.9 M144.0,504.3h0.9 M143.1,511.0h0.9 M140.0,512.8h0.9 M138.1,500.3h0.9 M145.6,499.7h0.9 M140.1,509.5h0.9 M148.1,496.1h0.9 M144.5,514.4h0.9 M148.0,503.8h0.9 M139.0,503.5h0.9 M136.2,503.7h0.9 M141.1,504.3h0.9 M147.9,503.8h0.9 M134.7,510.3h0.9 M136.6,502.8h0.9 M141.3,503.3h0.9 M137.0,503.8h0.9 M152.9,502.0h0.9 M141.3,510.6h0.9 M145.7,508.8h0.9 M146.3,495.2h0.9 M137.7,505.6h0.9 M144.5,511.5h0.9 M144.3,503.8h0.9 M142.2,503.9h0.9 M143.2,508.4h0.9 M140.3,500.9h0.9 M137.7,510.5h0.9 M148.4,510.0h0.9 M146.3,509.2h0.9 M142.0,508.3h0.9 M136.7,504.0h0.9 M138.3,508.6h0.9 M139.1,504.5h0.9 M144.0,511.8h0.9 M138.0,500.3h0.9 M146.1,499.5h0.9 M144.3,502.1h0.9 M141.5,495.9h0.9 M145.6,502.5h0.9 M137.5,515.4h0.9 M145.6,522.5h0.9 M144.0,503.3h0.9 M142.5,513.0h0.9 M141.9,507.3h0.9 M144.6,500.4h0.9 M142.6,502.5h0.9 M135.8,509.4h0.9 M145.3,505.4h0.9 M137.5,495.0h0.9 M144.4,504.5h0.9 M133.6,504.7h0.9 M134.4,504.9h0.9 M142.7,506.8h0.9 M143.1,505.9h0.9 M136.3,503.1h0.9 M139.4,503.8h0.9 M143.4,508.1h0.9 M150.2,492.2h0.9 M144.0,504.0h0.9 M153.4,509.7h0.9 M133.7,507.0h0.9 M139.4,510.0h0.9 M136.7,504.5h0.9 M141.3,504.5h0.9 M139.1,495.8h0.9 M144.3,510.0h0.9 M141.7,499.9h0.9" fill="none" stroke="#444" stroke-width="0.9"/>
<path d="M148.4,508.0h0.9 M145.8,503.9h0.9 M156.9,496.2h0.9 M143.1,490.7h0.9 M142.1,498.8h0.9 M140.3,499.1h0.9 M159.6,502.6h0.9 M146.2,519.4h0.9 M146.6,491.9h0.9 M149.8,497.4h0.9 M158.5,495.3h0.9 M142.9,492.8h0.9 M147.7,496.9h0.9 M146.5,501.4h0.9 M142.7,510.6h0.9 M153.5,504.4h0.9 M140.7,496.5h0.9 M148.9,520.7h0.9 M143.8,498.5h0.9 M142.1,496.3h0.9 M140.2,502.6h0.9 M157.0,504.0h0.9 M143.4,492.7h0.9 M148.5,503.8h0.9 M138.4,496.4h0.9 M146.7,511.1h0.9 M151.4,505.4h0.9 M144.7,506.2h0.9 M146.9,519.2h0.9 M139.1,501.4h0.9 M155.9,502.1h0.9 M157.0,503.7h0.9 M148.0,501.4h0.9 M137.3,497.2h0.9 M162.5,508.5h0.9 M151.2,510.7h0.9 M151.0,511.2h0.9 M145.1,502.4h0.9 M153.9,501.5h0.9 M137.7,502.4h0.9 M143.2,508.3h0.9 M142.0,496.6h0.9 M144.7,514.9h0.9 M146.7,505.1h0.9 M147.1,506.1h0.9 M153.5,513.8h0.9 M135.5,513.5h0.9 M147.0,501.8h0.9 M163.8,502.8h0.9 M160.6,510.8h0.9" fill="none" stroke="#666" stroke-width="0.9"/>
<path d="M209.8,480.4h0.9 M223.9,477.4h0.9 M199.4,476.3h0.9 M216.5,472.5h0.9 M232.6,476.8h0.9 M214.9,476.5h0.9 M211.7,474.1h0.9 M218.8,479.6h0.9 M213.9,477.5h0.9 M206.9,480.6h0.9 M212.0,479.1h0.9 M210.7,475.4h0.9 M219.7,471.9h0.9 M237.8,477.8h0.9 M217.4,474.3h0.9 M230.8,484.9h0.9 M220.4,471.2h0.9 M214.0,481.1h0.9 M213.9,472.1h0.9 M208.5,474.1h0.9 M218.1,474.8h0.9 M218.1,492.0h0.9" fill="none" stroke="#888" stroke-width="0.9"/>
<path d="M248.5,465.8h0.9 M245.7,472.5h0.9 M244.7,478.3h0.9 M244.3,470.0h0.9 M244.3,471.4h0.9" fill="none" stroke="#888" stroke-width="0.9"/>
<path d="M229.6,511.2h0.9 M205.9,501.5h0.9 M210.8,511.5h0.9 M220.0,512.1h0.9 M217.4,489.7h0.9 M222.1,506.8h0.9 M222.6,494.6h0.9 M218.7,499.5h0.9 M211.8,507.8h0.9 M221.2,497.9h0.9 M202.6,485.2h0.9 M212.8,514.0h0.9 M217.5,487.0h0.9 M210.2,508.4h0.9 M233.1,514.3h0.9 M221.3,506.6h0.9 M208.5,501.4h0.9 M215.0,498.8h0.9 M218.6,501.9h0.9 M221.0,516.5h0.9 M224.7,508.3h0.9 M215.8,492.8h0.9 M217.0,509.3h0.9 M208.9,515.0h0.9 M215.0,508.0h0.9 M215.0,495.0h0.9 M236.6,495.7h0.9 M226.3,500.6h0.9 M220.5,498.6h0.9 M214.3,512.4h0.9 M235.5,498.2h0.9 M218.1,512.6h0.9 M212.3,510.7h0.9 M210.9,509.8h0.9 M221.9,514.7h0.9 M221.3,495.5h0.9 M224.0,496.2h0.9 M224.8,517.1h0.9 M223.4,500.6h0.9 M228.7,506.3h0.9 M206.8,502.2h0.9 M230.8,502.6h0.9 M219.1,502.3h0.9 M202.8,500.9h0.9 M221.2,506.7h0.9" fill="none" stroke="#888" stroke-width="0.9"/>
<path d="M240.1,494.3h0.9 M247.1,508.6h0.9 M246.1,511.5h0.9 M238.8,502.0h0.9 M242.6,513.4h0.9 M232.6,503.9h0.9 M237.4,507.8h0.9 M248.3,503.5h0.9 M234.8,505.2h0.9 M239.6,497.3h0.9 M245.4,502.4h0.9 M244.4,498.4h0.9 M246.5,497.8h0.9 M246.3,495.9h0.9 M247.9,503.1h0.9 M233.2,503.8h0.9 M242.7,500.0h0.9 M238.5,506.3h0.9 M240.2,489.7h0.9 M238.9,507.1h0.9 M242.5,510.0h0.9 M237.5,517.8h0.9" fill="none" stroke="#777" stroke-width="0.9"/>
<line x1="136.5" y1="443" x2="136.5" y2="528.2" stroke="#000" stroke-width="1.6"/>
<line x1="94.5" y1="490" x2="179.5" y2="490" stroke="#000" stroke-width="1.6"/>
<line x1="234.5" y1="443" x2="234.5" y2="528.2" stroke="#000" stroke-width="1.6"/>
<line x1="193.3" y1="490" x2="278.8" y2="490" stroke="#000" stroke-width="1.6"/>
<text x="96.88" y="457.2" font-size="12.175" text-anchor="start">3.2</text>
<text x="96.8" y="522.62" font-size="11.93" text-anchor="start">40.5</text>
<text x="177.3" y="522.62" font-size="11.916" text-anchor="end">53.6</text>
<text x="195.8" y="458.05" font-size="11.902" text-anchor="start">19.3</text>
<text x="195.6" y="522.62" font-size="11.93" text-anchor="start">47.7</text>
<text x="275.8" y="522.62" font-size="11.93" text-anchor="end">29.5</text>
<line x1="83" y1="498.8" x2="83" y2="449.3" stroke="#000" stroke-width="1.5"/>
<path d="M80.0,449.8 L83,443.6 L86.0,449.8 Z" fill="#000"/>
<text x="87.09" y="528.28" font-size="12.17" text-anchor="start" transform="rotate(-90 87.09 528.28)">CD8</text>
<text x="93.17" y="545.2" font-size="12.372" text-anchor="start">CD4</text>
<line x1="125.5" y1="541.5" x2="271.90000000000003" y2="541.5" stroke="#000" stroke-width="1.5"/>
<path d="M271.40000000000003,538.5 L277.6,541.5 L271.40000000000003,544.5 Z" fill="#000"/>
<rect x="349.6" y="329.2" width="11.2" height="10.8" fill="#fff" stroke="#000" stroke-width="1.3"/>
<rect x="349.6" y="344.4" width="11.2" height="10.4" fill="#000" stroke="#000" stroke-width="1.3"/>
<text x="367.0" y="338.63" font-size="12.084" text-anchor="start">WT pre-cDCs</text>
<text x="462.09" y="339.14" font-size="11.902" text-anchor="start">Ly5.1</text>
<path d="M448.7,333.8 H457.2 M454.3,330.9 L457.5,333.8 L454.3,336.7" fill="none" stroke="#000" stroke-width="1.4"/>
<text x="366.92" y="353.19" font-size="12.329" text-anchor="start">MT pre-cDCs</text>
<text x="461.07" y="353.87" font-size="11.563" text-anchor="start">Ly5.1</text>
<path d="M447.2,349.5 H455.8 M452.8,346.6 L456,349.5 L452.8,352.4" fill="none" stroke="#000" stroke-width="1.4"/>
<path d="M352.9,386.2 V485 H480.6" fill="none" stroke="#333" stroke-width="1.2"/>
<line x1="350.4" y1="386.2" x2="352.9" y2="386.2" stroke="#333" stroke-width="1.0"/>
<line x1="350.4" y1="435.7" x2="352.9" y2="435.7" stroke="#333" stroke-width="1.0"/>
<line x1="399" y1="485" x2="399" y2="483" stroke="#333" stroke-width="0.8"/>
<line x1="441" y1="485" x2="441" y2="483" stroke="#333" stroke-width="0.8"/>
<text x="348.37" y="391.0" font-size="12.331" text-anchor="end">0.10</text>
<text x="348.37" y="441.08" font-size="12.331" text-anchor="end">0.05</text>
<text x="348.28" y="488.75" font-size="12.272" text-anchor="end">0</text>
<text x="318.77" y="430.46" font-size="11.945" text-anchor="middle" transform="rotate(-90 318.77 430.46)">% of total cDCs</text>
<line x1="370.85" y1="474.3" x2="370.85" y2="471.8" stroke="#000" stroke-width="1.2"/>
<line x1="368.65000000000003" y1="471.8" x2="373.05" y2="471.8" stroke="#000" stroke-width="1.2"/>
<rect x="363.2" y="474.3" width="15.300000000000011" height="10.699999999999989" fill="#fff" stroke="#000" stroke-width="1.2"/>
<line x1="386.0" y1="482.4" x2="386.0" y2="480.2" stroke="#000" stroke-width="1.2"/>
<line x1="383.8" y1="480.2" x2="388.2" y2="480.2" stroke="#000" stroke-width="1.2"/>
<rect x="378.5" y="482.4" width="15.0" height="2.6000000000000227" fill="#000" stroke="#000" stroke-width="1.2"/>
<line x1="412.25" y1="403.7" x2="412.25" y2="399.6" stroke="#000" stroke-width="1.2"/>
<line x1="410.05" y1="399.6" x2="414.45" y2="399.6" stroke="#000" stroke-width="1.2"/>
<rect x="404.4" y="403.7" width="15.700000000000045" height="81.30000000000001" fill="#fff" stroke="#000" stroke-width="1.2"/>
<line x1="427.65" y1="480.0" x2="427.65" y2="477.6" stroke="#000" stroke-width="1.2"/>
<line x1="425.45" y1="477.6" x2="429.84999999999997" y2="477.6" stroke="#000" stroke-width="1.2"/>
<rect x="420.1" y="480.0" width="15.099999999999966" height="5.0" fill="#000" stroke="#000" stroke-width="1.2"/>
<line x1="452.7" y1="429.0" x2="452.7" y2="428.6" stroke="#000" stroke-width="1.2"/>
<line x1="450.5" y1="428.6" x2="454.9" y2="428.6" stroke="#000" stroke-width="1.2"/>
<rect x="445.0" y="429.0" width="15.399999999999977" height="56.0" fill="#fff" stroke="#000" stroke-width="1.2"/>
<line x1="468.1" y1="470.0" x2="468.1" y2="464.5" stroke="#000" stroke-width="1.2"/>
<line x1="465.90000000000003" y1="464.5" x2="470.3" y2="464.5" stroke="#000" stroke-width="1.2"/>
<rect x="460.4" y="470.0" width="15.400000000000034" height="15.0" fill="#000" stroke="#000" stroke-width="1.2"/>
<path d="M411.3,395.2 V389.8 H427.3 V476.8" fill="none" stroke="#000" stroke-width="1.2"/>
<path d="M452.3,421.5 V390.8 H467.7 V459" fill="none" stroke="#000" stroke-width="1.2"/>
<text x="419.4" y="391.2" font-size="12.8" text-anchor="middle">**</text>
<text x="460.2" y="391.2" font-size="12.8" text-anchor="middle">**</text>
<text x="362.5" y="503.4" font-size="13.861" text-anchor="start">CD8<tspan dx="1.3" dy="-5" font-size="8">+</tspan></text>
<text x="404.77" y="503.4" font-size="14.354" text-anchor="start">CD4<tspan dx="1.3" dy="-5" font-size="8">+</tspan></text>
<text x="450.15" y="503.4" font-size="13.021" text-anchor="start">DN</text>
<text x="1.5" y="577.25" font-size="26.028" text-anchor="start">C</text>
<text x="109.2" y="583.42" font-size="14.426" text-anchor="middle">CD8<tspan dx="1.3" dy="-5" font-size="8">+</tspan></text>
<text x="202.26" y="582.83" font-size="14.261" text-anchor="middle">CD4<tspan dx="1.3" dy="-5" font-size="8">+</tspan></text>
<text x="297.28" y="583.26" font-size="14.116" text-anchor="middle">DN</text>
<text x="31.2" y="641.2" font-size="12.5" text-anchor="middle" transform="rotate(-90 31.2 641.2)">BrdU<tspan dy="-5" font-size="8.5">+</tspan><tspan dy="5"> cells (%)</tspan></text>
<text x="57.5" y="699.8" font-size="12.5" text-anchor="end">0</text>
<text x="57.5" y="674.3" font-size="12.5" text-anchor="end">25</text>
<text x="57.5" y="648.8" font-size="12.5" text-anchor="end">50</text>
<text x="57.5" y="623.3" font-size="12.5" text-anchor="end">75</text>
<text x="57.5" y="597.8" font-size="12.5" text-anchor="end">100</text>
<path d="M65.2,593.5 H63.2 V695.5 H143.64" fill="none" stroke="#333" stroke-width="1.1"/>
<path d="M63.2,670.0h2 M63.2,644.5h2 M63.2,619.0h2 M74.6,695.5v-2 M86.0,695.5v-2 M97.5,695.5v-2 M108.9,695.5v-2 M120.3,695.5v-2 M131.7,695.5v-2 M143.1,695.5v-2" fill="none" stroke="#333" stroke-width="0.9"/>
<line x1="63.2" y1="644.5" x2="145.64" y2="644.5" stroke="#000" stroke-width="1.3" stroke-dasharray="1.6,1.6"/>
<path d="M63.3,695.5 L73.8,648.8 L86.3,636.4 L96.9,623.1 L119.1,600.7 L142.7,600.0" fill="none" stroke="#000" stroke-width="1.0"/>
<path d="M63.3,695.5 L73.8,656.6 L86.3,641.6 L96.9,623.4 L119.1,609.9 L142.7,597.8" fill="none" stroke="#000" stroke-width="1.0"/>
<line x1="86.3" y1="636.442" x2="86.3" y2="632.362" stroke="#000" stroke-width="1.0"/>
<line x1="84.7" y1="632.362" x2="87.89999999999999" y2="632.362" stroke="#000" stroke-width="1.0"/>
<line x1="119.1" y1="600.742" x2="119.1" y2="596.866" stroke="#000" stroke-width="1.0"/>
<line x1="117.5" y1="596.866" x2="120.69999999999999" y2="596.866" stroke="#000" stroke-width="1.0"/>
<line x1="73.8" y1="656.638" x2="73.8" y2="663.778" stroke="#000" stroke-width="1.0"/>
<line x1="72.2" y1="663.778" x2="75.39999999999999" y2="663.778" stroke="#000" stroke-width="1.0"/>
<line x1="96.9" y1="623.386" x2="96.9" y2="615.226" stroke="#000" stroke-width="1.0"/>
<line x1="95.30000000000001" y1="615.226" x2="98.5" y2="615.226" stroke="#000" stroke-width="1.0"/>
<line x1="96.9" y1="623.386" x2="96.9" y2="631.0360000000001" stroke="#000" stroke-width="1.0"/>
<line x1="95.30000000000001" y1="631.0360000000001" x2="98.5" y2="631.0360000000001" stroke="#000" stroke-width="1.0"/>
<line x1="119.1" y1="609.922" x2="119.1" y2="620.7339999999999" stroke="#000" stroke-width="1.0"/>
<line x1="117.5" y1="620.7339999999999" x2="120.69999999999999" y2="620.7339999999999" stroke="#000" stroke-width="1.0"/>
<circle cx="73.8" cy="648.8" r="2.8" fill="#fff" stroke="#000" stroke-width="1.1"/>
<circle cx="86.3" cy="636.4" r="2.8" fill="#fff" stroke="#000" stroke-width="1.1"/>
<circle cx="96.9" cy="623.1" r="2.8" fill="#fff" stroke="#000" stroke-width="1.1"/>
<circle cx="119.1" cy="600.7" r="2.8" fill="#fff" stroke="#000" stroke-width="1.1"/>
<circle cx="142.7" cy="600.0" r="2.8" fill="#fff" stroke="#000" stroke-width="1.1"/>
<circle cx="73.8" cy="656.6" r="2.8" fill="#000" stroke="#000" stroke-width="1.1"/>
<circle cx="86.3" cy="641.6" r="2.8" fill="#000" stroke="#000" stroke-width="1.1"/>
<circle cx="96.9" cy="623.4" r="2.8" fill="#000" stroke="#000" stroke-width="1.1"/>
<circle cx="119.1" cy="609.9" r="2.8" fill="#000" stroke="#000" stroke-width="1.1"/>
<circle cx="142.7" cy="597.8" r="2.8" fill="#000" stroke="#000" stroke-width="1.1"/>
<circle cx="63.3" cy="694.9" r="2.9" fill="#fff" stroke="#000" stroke-width="1.1"/>
<text x="63.2" y="709.0" font-size="12.5" text-anchor="middle">0</text>
<text x="74.1" y="709.0" font-size="12.5" text-anchor="middle">1</text>
<text x="84.9" y="709.0" font-size="12.5" text-anchor="middle">2</text>
<text x="95.8" y="709.0" font-size="12.5" text-anchor="middle">3</text>
<text x="119.1" y="709.0" font-size="12.5" text-anchor="middle">5</text>
<text x="140.9" y="709.0" font-size="12.5" text-anchor="middle">7</text>
<path d="M160.8,593.5 H158.8 V695.5 H238.19" fill="none" stroke="#333" stroke-width="1.1"/>
<path d="M158.8,670.0h2 M158.8,644.5h2 M158.8,619.0h2 M170.1,695.5v-2 M181.3,695.5v-2 M192.6,695.5v-2 M203.9,695.5v-2 M215.2,695.5v-2 M226.4,695.5v-2 M237.7,695.5v-2" fill="none" stroke="#333" stroke-width="0.9"/>
<line x1="158.8" y1="644.5" x2="240.19" y2="644.5" stroke="#000" stroke-width="1.3" stroke-dasharray="1.6,1.6"/>
<path d="M158.9,695.5 L170.2,671.0 L181.3,657.8 L192.7,648.6 L215.9,628.9 L238.1,617.3" fill="none" stroke="#000" stroke-width="1.0"/>
<path d="M158.9,695.5 L170.2,660.1 L181.3,640.5 L192.7,630.2 L215.9,617.3 L238.1,603.0" fill="none" stroke="#000" stroke-width="1.0"/>
<line x1="181.3" y1="657.76" x2="181.3" y2="652.252" stroke="#000" stroke-width="1.0"/>
<line x1="179.70000000000002" y1="652.252" x2="182.9" y2="652.252" stroke="#000" stroke-width="1.0"/>
<line x1="181.3" y1="657.76" x2="181.3" y2="663.676" stroke="#000" stroke-width="1.0"/>
<line x1="179.70000000000002" y1="663.676" x2="182.9" y2="663.676" stroke="#000" stroke-width="1.0"/>
<line x1="192.7" y1="648.58" x2="192.7" y2="645.52" stroke="#000" stroke-width="1.0"/>
<line x1="191.1" y1="645.52" x2="194.29999999999998" y2="645.52" stroke="#000" stroke-width="1.0"/>
<line x1="192.7" y1="648.58" x2="192.7" y2="651.64" stroke="#000" stroke-width="1.0"/>
<line x1="191.1" y1="651.64" x2="194.29999999999998" y2="651.64" stroke="#000" stroke-width="1.0"/>
<line x1="238.1" y1="617.266" x2="238.1" y2="612.1659999999999" stroke="#000" stroke-width="1.0"/>
<line x1="236.5" y1="612.1659999999999" x2="239.7" y2="612.1659999999999" stroke="#000" stroke-width="1.0"/>
<line x1="238.1" y1="617.266" x2="238.1" y2="622.978" stroke="#000" stroke-width="1.0"/>
<line x1="236.5" y1="622.978" x2="239.7" y2="622.978" stroke="#000" stroke-width="1.0"/>
<line x1="170.2" y1="660.106" x2="170.2" y2="655.414" stroke="#000" stroke-width="1.0"/>
<line x1="168.6" y1="655.414" x2="171.79999999999998" y2="655.414" stroke="#000" stroke-width="1.0"/>
<line x1="170.2" y1="660.106" x2="170.2" y2="664.186" stroke="#000" stroke-width="1.0"/>
<line x1="168.6" y1="664.186" x2="171.79999999999998" y2="664.186" stroke="#000" stroke-width="1.0"/>
<line x1="215.9" y1="617.266" x2="215.9" y2="609.412" stroke="#000" stroke-width="1.0"/>
<line x1="214.3" y1="609.412" x2="217.5" y2="609.412" stroke="#000" stroke-width="1.0"/>
<line x1="215.9" y1="617.266" x2="215.9" y2="622.978" stroke="#000" stroke-width="1.0"/>
<line x1="214.3" y1="622.978" x2="217.5" y2="622.978" stroke="#000" stroke-width="1.0"/>
<circle cx="170.2" cy="671.0" r="2.8" fill="#fff" stroke="#000" stroke-width="1.1"/>
<circle cx="181.3" cy="657.8" r="2.8" fill="#fff" stroke="#000" stroke-width="1.1"/>
<circle cx="192.7" cy="648.6" r="2.8" fill="#fff" stroke="#000" stroke-width="1.1"/>
<circle cx="215.9" cy="628.9" r="2.8" fill="#fff" stroke="#000" stroke-width="1.1"/>
<circle cx="238.1" cy="617.3" r="2.8" fill="#fff" stroke="#000" stroke-width="1.1"/>
<circle cx="170.2" cy="660.1" r="2.8" fill="#000" stroke="#000" stroke-width="1.1"/>
<circle cx="181.3" cy="640.5" r="2.8" fill="#000" stroke="#000" stroke-width="1.1"/>
<circle cx="192.7" cy="630.2" r="2.8" fill="#000" stroke="#000" stroke-width="1.1"/>
<circle cx="215.9" cy="617.3" r="2.8" fill="#000" stroke="#000" stroke-width="1.1"/>
<circle cx="238.1" cy="603.0" r="2.8" fill="#000" stroke="#000" stroke-width="1.1"/>
<circle cx="158.9" cy="694.9" r="2.9" fill="#000" stroke="#000" stroke-width="1.1"/>
<text x="158.9" y="709.0" font-size="12.5" text-anchor="middle">0</text>
<text x="170.2" y="709.0" font-size="12.5" text-anchor="middle">1</text>
<text x="181.1" y="709.0" font-size="12.5" text-anchor="middle">2</text>
<text x="191.8" y="709.0" font-size="12.5" text-anchor="middle">3</text>
<text x="214.7" y="709.0" font-size="12.5" text-anchor="middle">5</text>
<text x="235.9" y="709.0" font-size="12.5" text-anchor="middle">7</text>
<path d="M258.0,593.5 H256.0 V695.5 H334.41" fill="none" stroke="#333" stroke-width="1.1"/>
<path d="M256.0,670.0h2 M256.0,644.5h2 M256.0,619.0h2 M267.1,695.5v-2 M278.3,695.5v-2 M289.4,695.5v-2 M300.5,695.5v-2 M311.6,695.5v-2 M322.8,695.5v-2 M333.9,695.5v-2" fill="none" stroke="#333" stroke-width="0.9"/>
<line x1="256.0" y1="644.5" x2="336.41" y2="644.5" stroke="#000" stroke-width="1.3" stroke-dasharray="1.6,1.6"/>
<path d="M256.0,695.5 L265.6,661.3 L276.8,644.5 L288.4,636.7 L311.4,617.7 L333.4,607.3" fill="none" stroke="#000" stroke-width="1.0"/>
<path d="M256.0,695.5 L265.6,656.6 L276.8,640.5 L288.4,626.6 L311.4,612.8 L333.4,607.3" fill="none" stroke="#000" stroke-width="1.0"/>
<line x1="276.8" y1="644.5" x2="276.8" y2="648.784" stroke="#000" stroke-width="1.0"/>
<line x1="275.2" y1="648.784" x2="278.40000000000003" y2="648.784" stroke="#000" stroke-width="1.0"/>
<line x1="288.4" y1="636.748" x2="288.4" y2="632.668" stroke="#000" stroke-width="1.0"/>
<line x1="286.79999999999995" y1="632.668" x2="290.0" y2="632.668" stroke="#000" stroke-width="1.0"/>
<line x1="288.4" y1="636.748" x2="288.4" y2="640.828" stroke="#000" stroke-width="1.0"/>
<line x1="286.79999999999995" y1="640.828" x2="290.0" y2="640.828" stroke="#000" stroke-width="1.0"/>
<line x1="311.4" y1="617.674" x2="311.4" y2="622.9780000000001" stroke="#000" stroke-width="1.0"/>
<line x1="309.79999999999995" y1="622.9780000000001" x2="313.0" y2="622.9780000000001" stroke="#000" stroke-width="1.0"/>
<line x1="265.6" y1="656.638" x2="265.6" y2="653.272" stroke="#000" stroke-width="1.0"/>
<line x1="264.0" y1="653.272" x2="267.20000000000005" y2="653.272" stroke="#000" stroke-width="1.0"/>
<line x1="276.8" y1="640.522" x2="276.8" y2="635.932" stroke="#000" stroke-width="1.0"/>
<line x1="275.2" y1="635.932" x2="278.40000000000003" y2="635.932" stroke="#000" stroke-width="1.0"/>
<line x1="288.4" y1="626.65" x2="288.4" y2="620.53" stroke="#000" stroke-width="1.0"/>
<line x1="286.79999999999995" y1="620.53" x2="290.0" y2="620.53" stroke="#000" stroke-width="1.0"/>
<line x1="311.4" y1="612.778" x2="311.4" y2="608.086" stroke="#000" stroke-width="1.0"/>
<line x1="309.79999999999995" y1="608.086" x2="313.0" y2="608.086" stroke="#000" stroke-width="1.0"/>
<circle cx="265.6" cy="661.3" r="2.8" fill="#fff" stroke="#000" stroke-width="1.1"/>
<circle cx="276.8" cy="644.5" r="2.8" fill="#fff" stroke="#000" stroke-width="1.1"/>
<circle cx="288.4" cy="636.7" r="2.8" fill="#fff" stroke="#000" stroke-width="1.1"/>
<circle cx="311.4" cy="617.7" r="2.8" fill="#fff" stroke="#000" stroke-width="1.1"/>
<circle cx="333.4" cy="607.3" r="2.8" fill="#fff" stroke="#000" stroke-width="1.1"/>
<circle cx="265.6" cy="656.6" r="2.8" fill="#000" stroke="#000" stroke-width="1.1"/>
<circle cx="276.8" cy="640.5" r="2.8" fill="#000" stroke="#000" stroke-width="1.1"/>
<circle cx="288.4" cy="626.6" r="2.8" fill="#000" stroke="#000" stroke-width="1.1"/>
<circle cx="311.4" cy="612.8" r="2.8" fill="#000" stroke="#000" stroke-width="1.1"/>
<circle cx="333.4" cy="607.3" r="2.8" fill="#000" stroke="#000" stroke-width="1.1"/>
<circle cx="256.0" cy="694.9" r="2.9" fill="#000" stroke="#000" stroke-width="1.1"/>
<text x="254.9" y="709.0" font-size="12.5" text-anchor="middle">0</text>
<text x="266.7" y="709.0" font-size="12.5" text-anchor="middle">1</text>
<text x="277.8" y="709.0" font-size="12.5" text-anchor="middle">2</text>
<text x="288.7" y="709.0" font-size="12.5" text-anchor="middle">3</text>
<text x="311.2" y="709.0" font-size="12.5" text-anchor="middle">5</text>
<text x="332.8" y="709.0" font-size="12.5" text-anchor="middle">7</text>
<text x="169.08" y="724.7" font-size="11.785" text-anchor="start">Time (days)</text>
<circle cx="302.8" cy="660.1" r="3.0" fill="#fff" stroke="#000" stroke-width="1.1"/>
<circle cx="302.8" cy="673.6" r="3.0" fill="#000" stroke="#000" stroke-width="1.1"/>
<text x="309.68" y="664.14" font-size="11.438" text-anchor="start">WT</text>
<text x="308.49" y="677.74" font-size="12.107" text-anchor="start">MT</text>
<path d="M386.7,590.4000000000001 V695.2 H511.8 v-2 M430.5,695.2 v-2 M473.5,695.2 v-2" fill="none" stroke="#333" stroke-width="1.2"/>
<path d="M386.7,669.0h-2.5 M386.7,642.8h-2.5 M386.7,616.6h-2.5 M386.7,590.4h-2.5" fill="none" stroke="#333" stroke-width="1.0"/>
<text x="382.8" y="699.6" font-size="12.8" text-anchor="end">0</text>
<text x="382.8" y="673.4" font-size="12.8" text-anchor="end">1</text>
<text x="382.8" y="647.2" font-size="12.8" text-anchor="end">2</text>
<text x="382.8" y="621.0" font-size="12.8" text-anchor="end">3</text>
<text x="382.8" y="594.8" font-size="12.8" text-anchor="end">4</text>
<text x="362.64" y="639.83" font-size="12.156" text-anchor="middle" transform="rotate(-90 362.64 639.83)">Half-life (days)</text>
<line x1="400.85" y1="652.494" x2="400.85" y2="649.0880000000001" stroke="#000" stroke-width="1.2"/>
<line x1="398.65000000000003" y1="649.0880000000001" x2="403.05" y2="649.0880000000001" stroke="#000" stroke-width="1.2"/>
<rect x="393.5" y="652.494" width="14.699999999999989" height="42.70600000000002" fill="#fff" stroke="#000" stroke-width="1.2"/>
<line x1="415.9" y1="646.73" x2="415.9" y2="641.2280000000001" stroke="#000" stroke-width="1.2"/>
<line x1="413.7" y1="641.2280000000001" x2="418.09999999999997" y2="641.2280000000001" stroke="#000" stroke-width="1.2"/>
<rect x="408.2" y="646.73" width="15.400000000000034" height="48.47000000000003" fill="#000" stroke="#000" stroke-width="1.2"/>
<line x1="444.0" y1="610.836" x2="444.0" y2="601.928" stroke="#000" stroke-width="1.2"/>
<line x1="441.8" y1="601.928" x2="446.2" y2="601.928" stroke="#000" stroke-width="1.2"/>
<rect x="436.5" y="610.836" width="15.0" height="84.36400000000003" fill="#fff" stroke="#000" stroke-width="1.2"/>
<line x1="459.05" y1="641.49" x2="459.05" y2="639.6560000000001" stroke="#000" stroke-width="1.2"/>
<line x1="456.85" y1="639.6560000000001" x2="461.25" y2="639.6560000000001" stroke="#000" stroke-width="1.2"/>
<rect x="451.5" y="641.49" width="15.100000000000023" height="53.710000000000036" fill="#000" stroke="#000" stroke-width="1.2"/>
<line x1="487.1" y1="635.464" x2="487.1" y2="630.4860000000001" stroke="#000" stroke-width="1.2"/>
<line x1="484.90000000000003" y1="630.4860000000001" x2="489.3" y2="630.4860000000001" stroke="#000" stroke-width="1.2"/>
<rect x="479.6" y="635.464" width="15.0" height="59.73599999999999" fill="#fff" stroke="#000" stroke-width="1.2"/>
<line x1="502.1" y1="644.634" x2="502.1" y2="644.11" stroke="#000" stroke-width="1.2"/>
<line x1="499.90000000000003" y1="644.11" x2="504.3" y2="644.11" stroke="#000" stroke-width="1.2"/>
<rect x="494.6" y="644.634" width="15.0" height="50.56600000000003" fill="#000" stroke="#000" stroke-width="1.2"/>
<path d="M443.1,597.6 V592.3 H459.2 V636.6" fill="none" stroke="#000" stroke-width="1.2"/>
<text x="450.4" y="590.5" font-size="13" text-anchor="middle">*</text>
<rect x="481.8" y="583.1" width="11.4" height="10.4" fill="#fff" stroke="#000" stroke-width="1.3"/>
<rect x="481.8" y="598.0" width="11.4" height="11.2" fill="#000" stroke="#000" stroke-width="1.3"/>
<text x="496.59" y="591.89" font-size="12.209" text-anchor="start">WT</text>
<text x="497.32" y="607.89" font-size="12.048" text-anchor="start">MT</text>
<text x="392.22" y="712.99" font-size="13.646" text-anchor="start">CD8<tspan dx="1.3" dy="-5" font-size="8">+</tspan></text>
<text x="435.81" y="712.99" font-size="13.646" text-anchor="start">CD4<tspan dx="1.3" dy="-5" font-size="8">+</tspan></text>
<text x="484.42" y="712.99" font-size="13.189" text-anchor="start">DN</text>
</svg></body></html>
